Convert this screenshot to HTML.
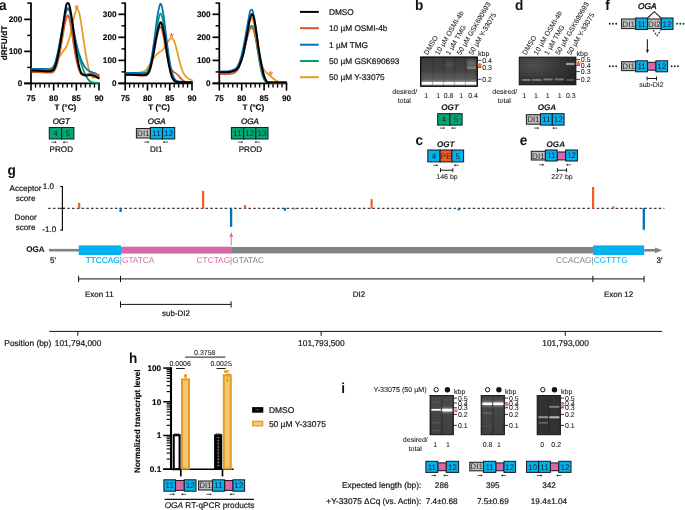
<!DOCTYPE html>
<html><head><meta charset="utf-8"><title>Figure</title>
<style>html,body{margin:0;padding:0;background:#fff;}body{width:685px;height:510px;overflow:hidden;}svg{display:block;font-family:"Liberation Sans",sans-serif;text-rendering:geometricPrecision;}</style>
</head><body>
<svg width="685" height="510" viewBox="0 0 685 510">
<defs>
<filter id="b1" x="-20%" y="-100%" width="140%" height="300%"><feGaussianBlur stdDeviation="0.6"/></filter>
<filter id="b2" x="-20%" y="-100%" width="140%" height="300%"><feGaussianBlur stdDeviation="1.2"/></filter>
<filter id="b3" x="-30%" y="-60%" width="160%" height="220%"><feGaussianBlur stdDeviation="2"/></filter>
<linearGradient id="gelb" x1="0" y1="0" x2="0" y2="1"><stop offset="0" stop-color="#333"/><stop offset="0.45" stop-color="#3c3c3c"/><stop offset="0.8" stop-color="#4d4d4d"/><stop offset="1" stop-color="#555"/></linearGradient>
<radialGradient id="geld" cx="0.25" cy="0.3" r="0.9"><stop offset="0" stop-color="#4e4e4e"/><stop offset="0.55" stop-color="#363636"/><stop offset="1" stop-color="#222"/></radialGradient>
<linearGradient id="geli" x1="0" y1="0" x2="0" y2="1"><stop offset="0" stop-color="#3e3e3e"/><stop offset="1" stop-color="#303030"/></linearGradient>
<clipPath id="clipb"><rect x="420.6" y="57.1" width="56.7" height="29.2"/></clipPath>
</defs>
<rect width="685" height="510" fill="#fff"/>
<g opacity="0.999">
<text transform="translate(-1.00 10.40) scale(0.94 1)" font-size="14.5" font-weight="bold" fill="#111">a</text>
<text x="6.90" y="43.00" font-size="8.35" text-anchor="middle" font-weight="bold" fill="#000" transform="rotate(-90 6.90 43.00)" stroke="#000" stroke-width="0.12">dRFU/dT</text>
<line x1="31.00" y1="2.50" x2="31.00" y2="84.25" stroke="#000" stroke-width="1.75"/>
<line x1="24.20" y1="83.40" x2="99.81" y2="83.40" stroke="#000" stroke-width="1.7"/>
<line x1="27.20" y1="3.10" x2="31.00" y2="3.10" stroke="#000" stroke-width="1.5"/>
<line x1="24.20" y1="83.40" x2="31.00" y2="83.40" stroke="#000" stroke-width="1.7"/>
<text x="22.30" y="86.35" font-size="8.2" text-anchor="end" font-weight="bold" fill="#000" stroke="#000" stroke-width="0.12">0</text>
<line x1="27.30" y1="67.40" x2="31.00" y2="67.40" stroke="#000" stroke-width="1.5"/>
<line x1="24.20" y1="51.40" x2="31.00" y2="51.40" stroke="#000" stroke-width="1.7"/>
<text x="22.30" y="54.35" font-size="8.2" text-anchor="end" font-weight="bold" fill="#000" stroke="#000" stroke-width="0.12">100</text>
<line x1="27.30" y1="35.40" x2="31.00" y2="35.40" stroke="#000" stroke-width="1.5"/>
<line x1="24.20" y1="19.40" x2="31.00" y2="19.40" stroke="#000" stroke-width="1.7"/>
<text x="22.30" y="22.35" font-size="8.2" text-anchor="end" font-weight="bold" fill="#000" stroke="#000" stroke-width="0.12">200</text>
<line x1="31.00" y1="83.40" x2="31.00" y2="90.60" stroke="#000" stroke-width="1.6"/>
<text x="31.00" y="101.10" font-size="8.2" text-anchor="middle" font-weight="bold" fill="#000" stroke="#000" stroke-width="0.12">75</text>
<line x1="35.53" y1="83.40" x2="35.53" y2="87.60" stroke="#000" stroke-width="1.35"/>
<line x1="40.07" y1="83.40" x2="40.07" y2="87.60" stroke="#000" stroke-width="1.35"/>
<line x1="44.60" y1="83.40" x2="44.60" y2="87.60" stroke="#000" stroke-width="1.35"/>
<line x1="49.14" y1="83.40" x2="49.14" y2="87.60" stroke="#000" stroke-width="1.35"/>
<line x1="53.67" y1="83.40" x2="53.67" y2="90.60" stroke="#000" stroke-width="1.6"/>
<text x="53.67" y="101.10" font-size="8.2" text-anchor="middle" font-weight="bold" fill="#000" stroke="#000" stroke-width="0.12">80</text>
<line x1="58.20" y1="83.40" x2="58.20" y2="87.60" stroke="#000" stroke-width="1.35"/>
<line x1="62.74" y1="83.40" x2="62.74" y2="87.60" stroke="#000" stroke-width="1.35"/>
<line x1="67.27" y1="83.40" x2="67.27" y2="87.60" stroke="#000" stroke-width="1.35"/>
<line x1="71.81" y1="83.40" x2="71.81" y2="87.60" stroke="#000" stroke-width="1.35"/>
<line x1="76.34" y1="83.40" x2="76.34" y2="90.60" stroke="#000" stroke-width="1.6"/>
<text x="76.34" y="101.10" font-size="8.2" text-anchor="middle" font-weight="bold" fill="#000" stroke="#000" stroke-width="0.12">85</text>
<line x1="80.87" y1="83.40" x2="80.87" y2="87.60" stroke="#000" stroke-width="1.35"/>
<line x1="85.41" y1="83.40" x2="85.41" y2="87.60" stroke="#000" stroke-width="1.35"/>
<line x1="89.94" y1="83.40" x2="89.94" y2="87.60" stroke="#000" stroke-width="1.35"/>
<line x1="94.48" y1="83.40" x2="94.48" y2="87.60" stroke="#000" stroke-width="1.35"/>
<line x1="99.01" y1="83.40" x2="99.01" y2="90.60" stroke="#000" stroke-width="1.6"/>
<text x="99.01" y="101.10" font-size="8.2" text-anchor="middle" font-weight="bold" fill="#000" stroke="#000" stroke-width="0.12">90</text>
<text x="65.46" y="110.20" font-size="8.1" text-anchor="middle" font-weight="bold" fill="#000" stroke="#000" stroke-width="0.12">T (°C)</text>
<path d="M31.60,69.00C33.00,68.97 37.27,68.83 40.00,68.80C42.73,68.77 46.00,68.93 48.00,68.80C50.00,68.67 50.75,68.88 52.00,68.00C53.25,67.12 54.27,65.42 55.50,63.50C56.73,61.58 58.15,58.48 59.40,56.50C60.65,54.52 61.82,53.27 63.00,51.60C64.18,49.93 65.50,48.52 66.50,46.50C67.50,44.48 68.17,42.33 69.00,39.50C69.83,36.67 70.70,33.08 71.50,29.50C72.30,25.92 73.07,21.12 73.80,18.00C74.53,14.88 75.30,12.30 75.90,10.80C76.50,9.30 76.90,8.88 77.40,9.00C77.90,9.12 78.35,9.58 78.90,11.50C79.45,13.42 80.08,16.92 80.70,20.50C81.32,24.08 81.83,27.83 82.60,33.00C83.37,38.17 84.50,46.55 85.30,51.50C86.10,56.45 86.83,59.82 87.40,62.70C87.97,65.58 88.27,67.05 88.70,68.80C89.13,70.55 89.57,71.97 90.00,73.20C90.43,74.43 90.78,75.47 91.30,76.20C91.82,76.93 92.43,77.40 93.10,77.60C93.77,77.80 94.57,77.37 95.30,77.40C96.03,77.43 96.80,77.60 97.50,77.80C98.20,78.00 99.17,78.47 99.50,78.60" fill="none" stroke="#E69D1E" stroke-width="1.75" stroke-linejoin="round" stroke-linecap="butt"/>
<path d="M31.60,69.50C33.33,69.52 38.93,69.55 42.00,69.60C45.07,69.65 48.17,69.98 50.00,69.80C51.83,69.62 52.07,69.63 53.00,68.50C53.93,67.37 54.67,66.00 55.60,63.00C56.53,60.00 57.53,55.75 58.60,50.50C59.67,45.25 60.97,37.17 62.00,31.50C63.03,25.83 64.00,20.17 64.80,16.50C65.60,12.83 66.22,10.82 66.80,9.50C67.38,8.18 67.80,8.18 68.30,8.60C68.80,9.02 69.22,9.77 69.80,12.00C70.38,14.23 71.02,17.83 71.80,22.00C72.58,26.17 73.52,32.20 74.50,37.00C75.48,41.80 76.87,47.27 77.70,50.80C78.53,54.33 78.83,55.78 79.50,58.20C80.17,60.62 81.02,63.23 81.70,65.30C82.38,67.37 82.95,68.98 83.60,70.60C84.25,72.22 84.83,73.53 85.60,75.00C86.37,76.47 87.32,78.27 88.20,79.40C89.08,80.53 90.02,81.27 90.90,81.80C91.78,82.33 92.07,82.43 93.50,82.60C94.93,82.77 98.50,82.77 99.50,82.80" fill="none" stroke="#009E73" stroke-width="1.75" stroke-linejoin="round" stroke-linecap="butt"/>
<path d="M31.60,68.80C33.33,68.82 38.93,68.83 42.00,68.90C45.07,68.97 48.17,69.43 50.00,69.20C51.83,68.97 52.10,68.70 53.00,67.50C53.90,66.30 54.52,64.92 55.40,62.00C56.28,59.08 57.23,55.08 58.30,50.00C59.37,44.92 60.75,37.00 61.80,31.50C62.85,26.00 63.78,20.62 64.60,17.00C65.42,13.38 66.08,11.20 66.70,9.80C67.32,8.40 67.77,8.32 68.30,8.60C68.83,8.88 69.28,9.43 69.90,11.50C70.52,13.57 71.22,17.08 72.00,21.00C72.78,24.92 73.77,30.75 74.60,35.00C75.43,39.25 76.27,43.37 77.00,46.50C77.73,49.63 78.15,51.25 79.00,53.80C79.85,56.35 81.00,59.43 82.10,61.80C83.20,64.17 84.43,66.47 85.60,68.00C86.77,69.53 87.92,70.25 89.10,71.00C90.28,71.75 91.67,72.10 92.70,72.50C93.73,72.90 94.17,72.88 95.30,73.40C96.43,73.92 98.80,75.23 99.50,75.60" fill="none" stroke="#0072B8" stroke-width="1.75" stroke-linejoin="round" stroke-linecap="butt"/>
<path d="M31.60,72.00C33.33,72.05 38.93,72.20 42.00,72.30C45.07,72.40 48.05,72.73 50.00,72.60C51.95,72.47 52.65,72.52 53.70,71.50C54.75,70.48 55.35,69.42 56.30,66.50C57.25,63.58 58.35,59.00 59.40,54.00C60.45,49.00 61.67,41.67 62.60,36.50C63.53,31.33 64.32,26.28 65.00,23.00C65.68,19.72 66.22,18.03 66.70,16.80C67.18,15.57 67.47,15.40 67.90,15.60C68.33,15.80 68.78,16.10 69.30,18.00C69.82,19.90 70.35,23.17 71.00,27.00C71.65,30.83 72.43,36.25 73.20,41.00C73.97,45.75 74.77,51.17 75.60,55.50C76.43,59.83 77.42,64.12 78.20,67.00C78.98,69.88 79.67,71.52 80.30,72.80C80.93,74.08 81.30,74.28 82.00,74.70C82.70,75.12 83.32,75.45 84.50,75.30C85.68,75.15 87.77,74.03 89.10,73.80C90.43,73.57 91.47,73.75 92.50,73.90C93.53,74.05 94.13,74.27 95.30,74.70C96.47,75.13 98.80,76.20 99.50,76.50" fill="none" stroke="#D5572A" stroke-width="1.9" stroke-linejoin="round" stroke-linecap="butt"/>
<path d="M31.60,70.60C33.33,70.65 38.93,70.78 42.00,70.90C45.07,71.02 48.12,71.45 50.00,71.30C51.88,71.15 52.37,70.97 53.30,70.00C54.23,69.03 54.72,68.33 55.60,65.50C56.48,62.67 57.53,58.50 58.60,53.00C59.67,47.50 61.03,38.67 62.00,32.50C62.97,26.33 63.73,20.38 64.40,16.00C65.07,11.62 65.55,8.30 66.00,6.20C66.45,4.10 66.67,3.87 67.10,3.40C67.53,2.93 68.15,2.80 68.60,3.40C69.05,4.00 69.33,4.93 69.80,7.00C70.27,9.07 70.77,11.63 71.40,15.80C72.03,19.97 72.80,26.13 73.60,32.00C74.40,37.87 75.35,45.50 76.20,51.00C77.05,56.50 77.97,61.58 78.70,65.00C79.43,68.42 80.03,70.02 80.60,71.50C81.17,72.98 81.27,73.25 82.10,73.90C82.93,74.55 84.53,75.17 85.60,75.40C86.67,75.63 87.62,75.37 88.50,75.30C89.38,75.23 89.77,74.83 90.90,75.00C92.03,75.17 93.87,75.70 95.30,76.30C96.73,76.90 98.80,78.22 99.50,78.60" fill="none" stroke="#000" stroke-width="2.0" stroke-linejoin="round" stroke-linecap="butt"/>
<text x="76.80" y="13.20" font-size="11.5" text-anchor="middle" fill="#F15A22" stroke="#F15A22" stroke-width="0.12">*</text>
<line x1="125.20" y1="2.50" x2="125.20" y2="84.25" stroke="#000" stroke-width="1.75"/>
<line x1="118.40" y1="83.40" x2="192.81" y2="83.40" stroke="#000" stroke-width="1.7"/>
<line x1="121.40" y1="3.10" x2="125.20" y2="3.10" stroke="#000" stroke-width="1.5"/>
<line x1="118.40" y1="83.40" x2="125.20" y2="83.40" stroke="#000" stroke-width="1.7"/>
<text x="116.50" y="86.35" font-size="8.2" text-anchor="end" font-weight="bold" fill="#000" stroke="#000" stroke-width="0.12">0</text>
<line x1="121.50" y1="71.90" x2="125.20" y2="71.90" stroke="#000" stroke-width="1.5"/>
<line x1="118.40" y1="60.40" x2="125.20" y2="60.40" stroke="#000" stroke-width="1.7"/>
<text x="116.50" y="63.35" font-size="8.2" text-anchor="end" font-weight="bold" fill="#000" stroke="#000" stroke-width="0.12">100</text>
<line x1="121.50" y1="48.90" x2="125.20" y2="48.90" stroke="#000" stroke-width="1.5"/>
<line x1="118.40" y1="37.30" x2="125.20" y2="37.30" stroke="#000" stroke-width="1.7"/>
<text x="116.50" y="40.25" font-size="8.2" text-anchor="end" font-weight="bold" fill="#000" stroke="#000" stroke-width="0.12">200</text>
<line x1="121.50" y1="25.80" x2="125.20" y2="25.80" stroke="#000" stroke-width="1.5"/>
<line x1="118.40" y1="14.30" x2="125.20" y2="14.30" stroke="#000" stroke-width="1.7"/>
<text x="116.50" y="17.25" font-size="8.2" text-anchor="end" font-weight="bold" fill="#000" stroke="#000" stroke-width="0.12">300</text>
<line x1="125.20" y1="83.40" x2="125.20" y2="90.60" stroke="#000" stroke-width="1.6"/>
<text x="125.20" y="101.10" font-size="8.2" text-anchor="middle" font-weight="bold" fill="#000" stroke="#000" stroke-width="0.12">75</text>
<line x1="129.65" y1="83.40" x2="129.65" y2="87.60" stroke="#000" stroke-width="1.35"/>
<line x1="134.11" y1="83.40" x2="134.11" y2="87.60" stroke="#000" stroke-width="1.35"/>
<line x1="138.56" y1="83.40" x2="138.56" y2="87.60" stroke="#000" stroke-width="1.35"/>
<line x1="143.02" y1="83.40" x2="143.02" y2="87.60" stroke="#000" stroke-width="1.35"/>
<line x1="147.47" y1="83.40" x2="147.47" y2="90.60" stroke="#000" stroke-width="1.6"/>
<text x="147.47" y="101.10" font-size="8.2" text-anchor="middle" font-weight="bold" fill="#000" stroke="#000" stroke-width="0.12">80</text>
<line x1="151.92" y1="83.40" x2="151.92" y2="87.60" stroke="#000" stroke-width="1.35"/>
<line x1="156.38" y1="83.40" x2="156.38" y2="87.60" stroke="#000" stroke-width="1.35"/>
<line x1="160.83" y1="83.40" x2="160.83" y2="87.60" stroke="#000" stroke-width="1.35"/>
<line x1="165.29" y1="83.40" x2="165.29" y2="87.60" stroke="#000" stroke-width="1.35"/>
<line x1="169.74" y1="83.40" x2="169.74" y2="90.60" stroke="#000" stroke-width="1.6"/>
<text x="169.74" y="101.10" font-size="8.2" text-anchor="middle" font-weight="bold" fill="#000" stroke="#000" stroke-width="0.12">85</text>
<line x1="174.19" y1="83.40" x2="174.19" y2="87.60" stroke="#000" stroke-width="1.35"/>
<line x1="178.65" y1="83.40" x2="178.65" y2="87.60" stroke="#000" stroke-width="1.35"/>
<line x1="183.10" y1="83.40" x2="183.10" y2="87.60" stroke="#000" stroke-width="1.35"/>
<line x1="187.56" y1="83.40" x2="187.56" y2="87.60" stroke="#000" stroke-width="1.35"/>
<line x1="192.01" y1="83.40" x2="192.01" y2="90.60" stroke="#000" stroke-width="1.6"/>
<text x="192.01" y="101.10" font-size="8.2" text-anchor="middle" font-weight="bold" fill="#000" stroke="#000" stroke-width="0.12">90</text>
<text x="159.05" y="110.20" font-size="8.1" text-anchor="middle" font-weight="bold" fill="#000" stroke="#000" stroke-width="0.12">T (°C)</text>
<path d="M125.80,72.80C127.17,72.80 131.73,72.83 134.00,72.80C136.27,72.77 137.90,72.80 139.40,72.60C140.90,72.40 141.82,72.10 143.00,71.60C144.18,71.10 145.18,71.08 146.50,69.60C147.82,68.12 149.43,65.00 150.90,62.70C152.37,60.40 153.90,57.52 155.30,55.80C156.70,54.08 158.08,53.37 159.30,52.40C160.52,51.43 161.60,51.00 162.60,50.00C163.60,49.00 164.47,47.70 165.30,46.40C166.13,45.10 166.88,43.38 167.60,42.20C168.32,41.02 168.97,39.97 169.60,39.30C170.23,38.63 170.82,38.20 171.40,38.20C171.98,38.20 172.52,38.45 173.10,39.30C173.68,40.15 174.30,41.60 174.90,43.30C175.50,45.00 176.12,47.30 176.70,49.50C177.28,51.70 177.83,54.17 178.40,56.50C178.97,58.83 179.52,61.32 180.10,63.50C180.68,65.68 181.25,67.85 181.90,69.60C182.55,71.35 183.28,72.80 184.00,74.00C184.72,75.20 185.37,75.97 186.20,76.80C187.03,77.63 187.93,78.37 189.00,79.00C190.07,79.63 192.00,80.33 192.60,80.60" fill="none" stroke="#E69D1E" stroke-width="1.75" stroke-linejoin="round" stroke-linecap="butt"/>
<path d="M125.80,74.80C126.83,74.82 129.97,74.78 132.00,74.90C134.03,75.02 136.17,75.37 138.00,75.50C139.83,75.63 141.47,75.78 143.00,75.70C144.53,75.62 146.05,75.87 147.20,75.00C148.35,74.13 149.00,73.08 149.90,70.50C150.80,67.92 151.68,63.83 152.60,59.50C153.52,55.17 154.52,49.00 155.40,44.50C156.28,40.00 157.10,35.45 157.90,32.50C158.70,29.55 159.48,27.13 160.20,26.80C160.92,26.47 161.52,28.13 162.20,30.50C162.88,32.87 163.55,37.08 164.30,41.00C165.05,44.92 165.92,50.25 166.70,54.00C167.48,57.75 168.23,61.00 169.00,63.50C169.77,66.00 170.55,67.62 171.30,69.00C172.05,70.38 172.72,71.07 173.50,71.80C174.28,72.53 175.17,72.77 176.00,73.40C176.83,74.03 177.67,74.73 178.50,75.60C179.33,76.47 180.17,77.73 181.00,78.60C181.83,79.47 182.58,80.20 183.50,80.80C184.42,81.40 184.98,81.90 186.50,82.20C188.02,82.50 191.58,82.53 192.60,82.60" fill="none" stroke="#D5572A" stroke-width="1.75" stroke-linejoin="round" stroke-linecap="butt"/>
<path d="M125.80,73.20C127.50,73.22 133.05,73.25 136.00,73.30C138.95,73.35 141.63,73.67 143.50,73.50C145.37,73.33 146.13,73.30 147.20,72.30C148.27,71.30 149.02,70.30 149.90,67.50C150.78,64.70 151.62,60.17 152.50,55.50C153.38,50.83 154.35,44.67 155.20,39.50C156.05,34.33 156.92,28.42 157.60,24.50C158.28,20.58 158.80,17.87 159.30,16.00C159.80,14.13 160.15,13.27 160.60,13.30C161.05,13.33 161.48,14.25 162.00,16.20C162.52,18.15 163.12,21.53 163.70,25.00C164.28,28.47 164.87,32.67 165.50,37.00C166.13,41.33 166.77,46.25 167.50,51.00C168.23,55.75 169.08,61.47 169.90,65.50C170.72,69.53 171.52,72.75 172.40,75.20C173.28,77.65 174.18,79.13 175.20,80.20C176.22,81.27 177.03,81.30 178.50,81.60C179.97,81.90 181.65,81.90 184.00,82.00C186.35,82.10 191.17,82.17 192.60,82.20" fill="none" stroke="#009E73" stroke-width="1.75" stroke-linejoin="round" stroke-linecap="butt"/>
<path d="M125.80,72.80C127.50,72.82 133.05,72.85 136.00,72.90C138.95,72.95 141.67,73.25 143.50,73.10C145.33,72.95 145.97,73.02 147.00,72.00C148.03,70.98 148.83,70.00 149.70,67.00C150.57,64.00 151.35,59.17 152.20,54.00C153.05,48.83 153.97,42.08 154.80,36.00C155.63,29.92 156.48,22.25 157.20,17.50C157.92,12.75 158.53,9.82 159.10,7.50C159.67,5.18 160.12,3.68 160.60,3.60C161.08,3.52 161.48,4.85 162.00,7.00C162.52,9.15 163.12,12.58 163.70,16.50C164.28,20.42 164.87,25.50 165.50,30.50C166.13,35.50 166.75,41.00 167.50,46.50C168.25,52.00 169.17,58.83 170.00,63.50C170.83,68.17 171.63,71.78 172.50,74.50C173.37,77.22 174.20,78.65 175.20,79.80C176.20,80.95 177.03,81.07 178.50,81.40C179.97,81.73 181.65,81.70 184.00,81.80C186.35,81.90 191.17,81.97 192.60,82.00" fill="none" stroke="#0072B8" stroke-width="1.75" stroke-linejoin="round" stroke-linecap="butt"/>
<path d="M125.80,74.80C127.50,74.82 133.00,74.85 136.00,74.90C139.00,74.95 141.92,75.25 143.80,75.10C145.68,74.95 146.30,74.85 147.30,74.00C148.30,73.15 148.90,72.75 149.80,70.00C150.70,67.25 151.72,62.42 152.70,57.50C153.68,52.58 154.77,45.33 155.70,40.50C156.63,35.67 157.48,31.55 158.30,28.50C159.12,25.45 159.87,22.45 160.60,22.20C161.33,21.95 162.00,24.37 162.70,27.00C163.40,29.63 164.08,33.58 164.80,38.00C165.52,42.42 166.25,48.67 167.00,53.50C167.75,58.33 168.52,63.17 169.30,67.00C170.08,70.83 170.88,74.20 171.70,76.50C172.52,78.80 173.32,79.88 174.20,80.80C175.08,81.72 175.53,81.75 177.00,82.00C178.47,82.25 180.40,82.23 183.00,82.30C185.60,82.37 191.00,82.38 192.60,82.40" fill="none" stroke="#000" stroke-width="2.0" stroke-linejoin="round" stroke-linecap="butt"/>
<text x="171.40" y="41.40" font-size="11.5" text-anchor="middle" fill="#F15A22" stroke="#F15A22" stroke-width="0.12">*</text>
<line x1="219.30" y1="2.50" x2="219.30" y2="84.25" stroke="#000" stroke-width="1.75"/>
<line x1="212.50" y1="83.40" x2="287.30" y2="83.40" stroke="#000" stroke-width="1.7"/>
<line x1="215.50" y1="3.10" x2="219.30" y2="3.10" stroke="#000" stroke-width="1.5"/>
<line x1="212.50" y1="83.40" x2="219.30" y2="83.40" stroke="#000" stroke-width="1.7"/>
<text x="210.60" y="86.35" font-size="8.2" text-anchor="end" font-weight="bold" fill="#000" stroke="#000" stroke-width="0.12">0</text>
<line x1="215.60" y1="71.90" x2="219.30" y2="71.90" stroke="#000" stroke-width="1.5"/>
<line x1="212.50" y1="60.40" x2="219.30" y2="60.40" stroke="#000" stroke-width="1.7"/>
<text x="210.60" y="63.35" font-size="8.2" text-anchor="end" font-weight="bold" fill="#000" stroke="#000" stroke-width="0.12">100</text>
<line x1="215.60" y1="48.90" x2="219.30" y2="48.90" stroke="#000" stroke-width="1.5"/>
<line x1="212.50" y1="37.30" x2="219.30" y2="37.30" stroke="#000" stroke-width="1.7"/>
<text x="210.60" y="40.25" font-size="8.2" text-anchor="end" font-weight="bold" fill="#000" stroke="#000" stroke-width="0.12">200</text>
<line x1="215.60" y1="25.80" x2="219.30" y2="25.80" stroke="#000" stroke-width="1.5"/>
<line x1="212.50" y1="14.30" x2="219.30" y2="14.30" stroke="#000" stroke-width="1.7"/>
<text x="210.60" y="17.25" font-size="8.2" text-anchor="end" font-weight="bold" fill="#000" stroke="#000" stroke-width="0.12">300</text>
<line x1="219.30" y1="83.40" x2="219.30" y2="90.60" stroke="#000" stroke-width="1.6"/>
<text x="219.30" y="101.10" font-size="8.2" text-anchor="middle" font-weight="bold" fill="#000" stroke="#000" stroke-width="0.12">75</text>
<line x1="223.78" y1="83.40" x2="223.78" y2="87.60" stroke="#000" stroke-width="1.35"/>
<line x1="228.26" y1="83.40" x2="228.26" y2="87.60" stroke="#000" stroke-width="1.35"/>
<line x1="232.74" y1="83.40" x2="232.74" y2="87.60" stroke="#000" stroke-width="1.35"/>
<line x1="237.22" y1="83.40" x2="237.22" y2="87.60" stroke="#000" stroke-width="1.35"/>
<line x1="241.70" y1="83.40" x2="241.70" y2="90.60" stroke="#000" stroke-width="1.6"/>
<text x="241.70" y="101.10" font-size="8.2" text-anchor="middle" font-weight="bold" fill="#000" stroke="#000" stroke-width="0.12">80</text>
<line x1="246.18" y1="83.40" x2="246.18" y2="87.60" stroke="#000" stroke-width="1.35"/>
<line x1="250.66" y1="83.40" x2="250.66" y2="87.60" stroke="#000" stroke-width="1.35"/>
<line x1="255.14" y1="83.40" x2="255.14" y2="87.60" stroke="#000" stroke-width="1.35"/>
<line x1="259.62" y1="83.40" x2="259.62" y2="87.60" stroke="#000" stroke-width="1.35"/>
<line x1="264.10" y1="83.40" x2="264.10" y2="90.60" stroke="#000" stroke-width="1.6"/>
<text x="264.10" y="101.10" font-size="8.2" text-anchor="middle" font-weight="bold" fill="#000" stroke="#000" stroke-width="0.12">85</text>
<line x1="268.58" y1="83.40" x2="268.58" y2="87.60" stroke="#000" stroke-width="1.35"/>
<line x1="273.06" y1="83.40" x2="273.06" y2="87.60" stroke="#000" stroke-width="1.35"/>
<line x1="277.54" y1="83.40" x2="277.54" y2="87.60" stroke="#000" stroke-width="1.35"/>
<line x1="282.02" y1="83.40" x2="282.02" y2="87.60" stroke="#000" stroke-width="1.35"/>
<line x1="286.50" y1="83.40" x2="286.50" y2="90.60" stroke="#000" stroke-width="1.6"/>
<text x="286.50" y="101.10" font-size="8.2" text-anchor="middle" font-weight="bold" fill="#000" stroke="#000" stroke-width="0.12">90</text>
<text x="253.35" y="110.20" font-size="8.1" text-anchor="middle" font-weight="bold" fill="#000" stroke="#000" stroke-width="0.12">T (°C)</text>
<path d="M219.90,72.00C221.58,71.93 227.48,71.93 230.00,71.60C232.52,71.27 233.57,70.93 235.00,70.00C236.43,69.07 237.33,68.58 238.60,66.00C239.87,63.42 241.30,59.42 242.60,54.50C243.90,49.58 245.30,41.67 246.40,36.50C247.50,31.33 248.33,26.55 249.20,23.50C250.07,20.45 250.87,18.37 251.60,18.20C252.33,18.03 252.90,19.78 253.60,22.50C254.30,25.22 255.03,29.92 255.80,34.50C256.57,39.08 257.45,45.67 258.20,50.00C258.95,54.33 259.62,57.75 260.30,60.50C260.98,63.25 261.48,64.72 262.30,66.50C263.12,68.28 264.25,69.95 265.20,71.20C266.15,72.45 267.12,73.17 268.00,74.00C268.88,74.83 269.58,75.40 270.50,76.20C271.42,77.00 272.50,78.03 273.50,78.80C274.50,79.57 275.42,80.27 276.50,80.80C277.58,81.33 278.27,81.70 280.00,82.00C281.73,82.30 285.75,82.50 286.90,82.60" fill="none" stroke="#E69D1E" stroke-width="1.75" stroke-linejoin="round" stroke-linecap="butt"/>
<path d="M219.90,71.80C221.58,71.75 227.48,71.80 230.00,71.50C232.52,71.20 233.57,70.88 235.00,70.00C236.43,69.12 237.33,68.62 238.60,66.20C239.87,63.78 241.30,59.87 242.60,55.50C243.90,51.13 245.33,44.33 246.40,40.00C247.47,35.67 248.30,31.80 249.00,29.50C249.70,27.20 250.03,26.75 250.60,26.20C251.17,25.65 251.83,25.57 252.40,26.20C252.97,26.83 253.37,27.45 254.00,30.00C254.63,32.55 255.43,37.08 256.20,41.50C256.97,45.92 257.83,52.00 258.60,56.50C259.37,61.00 260.07,65.08 260.80,68.50C261.53,71.92 262.23,74.87 263.00,77.00C263.77,79.13 264.40,80.40 265.40,81.30C266.40,82.20 265.42,82.18 269.00,82.40C272.58,82.62 283.92,82.57 286.90,82.60" fill="none" stroke="#009E73" stroke-width="1.75" stroke-linejoin="round" stroke-linecap="butt"/>
<path d="M219.90,74.20C221.58,74.13 227.48,74.10 230.00,73.80C232.52,73.50 233.60,73.28 235.00,72.40C236.40,71.52 237.20,70.90 238.40,68.50C239.60,66.10 240.93,62.33 242.20,58.00C243.47,53.67 244.90,46.87 246.00,42.50C247.10,38.13 247.88,34.28 248.80,31.80C249.72,29.32 250.62,27.65 251.50,27.60C252.38,27.55 253.25,29.10 254.10,31.50C254.95,33.90 255.77,37.83 256.60,42.00C257.43,46.17 258.30,52.00 259.10,56.50C259.90,61.00 260.65,65.50 261.40,69.00C262.15,72.50 262.87,75.43 263.60,77.50C264.33,79.57 264.90,80.58 265.80,81.40C266.70,82.22 265.48,82.20 269.00,82.40C272.52,82.60 283.92,82.57 286.90,82.60" fill="none" stroke="#D5572A" stroke-width="1.75" stroke-linejoin="round" stroke-linecap="butt"/>
<path d="M219.90,71.50C221.42,71.42 226.65,71.32 229.00,71.00C231.35,70.68 232.53,70.43 234.00,69.60C235.47,68.77 236.47,68.68 237.80,66.00C239.13,63.32 240.63,59.00 242.00,53.50C243.37,48.00 244.90,38.83 246.00,33.00C247.10,27.17 247.88,22.23 248.60,18.50C249.32,14.77 249.67,11.97 250.30,10.60C250.93,9.23 251.82,9.48 252.40,10.30C252.98,11.12 253.27,12.80 253.80,15.50C254.33,18.20 254.93,22.00 255.60,26.50C256.27,31.00 257.07,37.17 257.80,42.50C258.53,47.83 259.27,53.67 260.00,58.50C260.73,63.33 261.50,68.12 262.20,71.50C262.90,74.88 263.50,77.08 264.20,78.80C264.90,80.52 265.43,81.20 266.40,81.80C267.37,82.40 266.58,82.27 270.00,82.40C273.42,82.53 284.08,82.57 286.90,82.60" fill="none" stroke="#0072B8" stroke-width="1.75" stroke-linejoin="round" stroke-linecap="butt"/>
<path d="M219.90,72.20C221.58,72.15 227.48,72.18 230.00,71.90C232.52,71.62 233.53,71.35 235.00,70.50C236.47,69.65 237.47,69.38 238.80,66.80C240.13,64.22 241.67,60.13 243.00,55.00C244.33,49.87 245.70,41.73 246.80,36.00C247.90,30.27 248.73,24.27 249.60,20.60C250.47,16.93 251.23,14.17 252.00,14.00C252.77,13.83 253.47,16.50 254.20,19.60C254.93,22.70 255.63,27.62 256.40,32.60C257.17,37.58 257.95,44.18 258.80,49.50C259.65,54.82 260.63,60.17 261.50,64.50C262.37,68.83 263.18,72.78 264.00,75.50C264.82,78.22 265.48,79.65 266.40,80.80C267.32,81.95 266.08,82.10 269.50,82.40C272.92,82.70 284.00,82.57 286.90,82.60" fill="none" stroke="#000" stroke-width="2.0" stroke-linejoin="round" stroke-linecap="butt"/>
<text x="270.70" y="79.40" font-size="11.5" text-anchor="middle" fill="#F15A22" stroke="#F15A22" stroke-width="0.12">*</text>
<text x="61.30" y="123.70" font-size="8.0" text-anchor="middle" font-style="italic" fill="#1a1a1a" stroke="#1a1a1a" stroke-width="0.34">OGT</text>
<rect x="49.30" y="127.50" width="12.30" height="11.50" fill="#00A876" stroke="#1f1f1f" stroke-width="1.05"/>
<text x="55.45" y="136.17" font-size="8.1" text-anchor="middle" fill="#0f2a21" stroke="#0f2a21" stroke-width="0">4</text>
<rect x="61.60" y="127.50" width="12.30" height="11.50" fill="#00A876" stroke="#1f1f1f" stroke-width="1.05"/>
<text x="67.75" y="136.17" font-size="8.1" text-anchor="middle" fill="#0f2a21" stroke="#0f2a21" stroke-width="0">5</text>
<line x1="51.30" y1="142.20" x2="55.90" y2="142.20" stroke="#1a1a1a" stroke-width="0.7"/>
<path d="M56.70,142.20 L54.70,141.00 L55.20,142.20 L54.70,143.40Z" fill="#1a1a1a"/>
<line x1="63.50" y1="142.20" x2="67.90" y2="142.20" stroke="#1a1a1a" stroke-width="0.7"/>
<path d="M62.70,142.20 L64.70,141.00 L64.20,142.20 L64.70,143.40Z" fill="#1a1a1a"/>
<text x="61.30" y="151.80" font-size="8.1" text-anchor="middle" fill="#1a1a1a" stroke="#1a1a1a" stroke-width="0.22">PROD</text>
<text x="156.70" y="123.70" font-size="8.0" text-anchor="middle" font-style="italic" fill="#1a1a1a" stroke="#1a1a1a" stroke-width="0.34">OGA</text>
<rect x="136.40" y="128.50" width="14.00" height="9.50" fill="#BFBFBF" stroke="#1f1f1f" stroke-width="1.05"/>
<text x="143.40" y="136.17" font-size="8.1" text-anchor="middle" fill="#2c2c2c" stroke="#2c2c2c" stroke-width="0">DI1</text>
<rect x="150.40" y="127.50" width="12.10" height="11.50" fill="#00B2EE" stroke="#1f1f1f" stroke-width="1.05"/>
<text x="156.45" y="136.17" font-size="8.1" text-anchor="middle" fill="#14222b" stroke="#14222b" stroke-width="0">11</text>
<rect x="162.50" y="127.50" width="12.20" height="11.50" fill="#00B2EE" stroke="#1f1f1f" stroke-width="1.05"/>
<text x="168.60" y="136.17" font-size="8.1" text-anchor="middle" fill="#14222b" stroke="#14222b" stroke-width="0">12</text>
<line x1="144.20" y1="142.10" x2="148.50" y2="142.10" stroke="#1a1a1a" stroke-width="0.7"/>
<path d="M149.30,142.10 L147.30,140.90 L147.80,142.10 L147.30,143.30Z" fill="#1a1a1a"/>
<line x1="163.60" y1="142.10" x2="168.00" y2="142.10" stroke="#1a1a1a" stroke-width="0.7"/>
<path d="M162.80,142.10 L164.80,140.90 L164.30,142.10 L164.80,143.30Z" fill="#1a1a1a"/>
<text x="156.30" y="151.80" font-size="8.1" text-anchor="middle" fill="#1a1a1a" stroke="#1a1a1a" stroke-width="0.22">DI1</text>
<text x="250.00" y="123.70" font-size="8.0" text-anchor="middle" font-style="italic" fill="#1a1a1a" stroke="#1a1a1a" stroke-width="0.34">OGA</text>
<rect x="231.40" y="127.50" width="12.20" height="11.50" fill="#00A876" stroke="#1f1f1f" stroke-width="1.05"/>
<text x="237.50" y="136.17" font-size="8.1" text-anchor="middle" fill="#0f2a21" stroke="#0f2a21" stroke-width="0">11</text>
<rect x="243.60" y="127.50" width="12.20" height="11.50" fill="#00A876" stroke="#1f1f1f" stroke-width="1.05"/>
<text x="249.70" y="136.17" font-size="8.1" text-anchor="middle" fill="#0f2a21" stroke="#0f2a21" stroke-width="0">12</text>
<rect x="255.80" y="127.50" width="12.20" height="11.50" fill="#00A876" stroke="#1f1f1f" stroke-width="1.05"/>
<text x="261.90" y="136.17" font-size="8.1" text-anchor="middle" fill="#0f2a21" stroke="#0f2a21" stroke-width="0">13</text>
<line x1="238.00" y1="142.10" x2="242.40" y2="142.10" stroke="#1a1a1a" stroke-width="0.7"/>
<path d="M243.20,142.10 L241.20,140.90 L241.70,142.10 L241.20,143.30Z" fill="#1a1a1a"/>
<line x1="255.40" y1="142.10" x2="259.80" y2="142.10" stroke="#1a1a1a" stroke-width="0.7"/>
<path d="M254.60,142.10 L256.60,140.90 L256.10,142.10 L256.60,143.30Z" fill="#1a1a1a"/>
<text x="250.40" y="151.80" font-size="8.1" text-anchor="middle" fill="#1a1a1a" stroke="#1a1a1a" stroke-width="0.22">PROD</text>
<line x1="300.00" y1="11.90" x2="318.80" y2="11.90" stroke="#000" stroke-width="2.0"/>
<text x="329.00" y="14.70" font-size="8.25" fill="#1a1a1a" stroke="#1a1a1a" stroke-width="0.22">DMSO</text>
<line x1="300.00" y1="28.20" x2="318.80" y2="28.20" stroke="#D5572A" stroke-width="2.0"/>
<text x="329.00" y="31.00" font-size="8.25" fill="#1a1a1a" stroke="#1a1a1a" stroke-width="0.22">10 µM OSMI-4b</text>
<line x1="300.00" y1="44.70" x2="318.80" y2="44.70" stroke="#0072B8" stroke-width="2.0"/>
<text x="329.00" y="47.50" font-size="8.25" fill="#1a1a1a" stroke="#1a1a1a" stroke-width="0.22">1 µM TMG</text>
<line x1="300.00" y1="61.00" x2="318.80" y2="61.00" stroke="#009E73" stroke-width="2.0"/>
<text x="329.00" y="63.80" font-size="8.25" fill="#1a1a1a" stroke="#1a1a1a" stroke-width="0.22">50 µM GSK690693</text>
<line x1="300.00" y1="77.20" x2="318.80" y2="77.20" stroke="#E69D1E" stroke-width="2.0"/>
<text x="329.00" y="80.00" font-size="8.25" fill="#1a1a1a" stroke="#1a1a1a" stroke-width="0.22">50 µM Y-33075</text>
<text transform="translate(415.10 10.40) scale(0.94 1)" font-size="14.5" font-weight="bold" fill="#111">b</text>
<text x="427.60" y="55.40" font-size="7.0" fill="#1a1a1a" transform="rotate(-59.5 427.60 55.40)" stroke="#1a1a1a" stroke-width="0.08">DMSO</text>
<text x="438.80" y="55.40" font-size="7.0" fill="#1a1a1a" transform="rotate(-59.5 438.80 55.40)" stroke="#1a1a1a" stroke-width="0.08">10 µM OSMI-4b</text>
<text x="449.60" y="55.40" font-size="7.0" fill="#1a1a1a" transform="rotate(-59.5 449.60 55.40)" stroke="#1a1a1a" stroke-width="0.08">1 µM TMG</text>
<text x="460.60" y="55.40" font-size="7.0" fill="#1a1a1a" transform="rotate(-59.5 460.60 55.40)" stroke="#1a1a1a" stroke-width="0.08">50 µM GSK690693</text>
<text x="472.40" y="55.40" font-size="7.0" fill="#1a1a1a" transform="rotate(-59.5 472.40 55.40)" stroke="#1a1a1a" stroke-width="0.08">50 µM Y-33075</text>
<rect x="420.60" y="57.10" width="56.70" height="29.20" fill="url(#gelb)" stroke="#0a0a0a" stroke-width="0.9"/>
<g clip-path="url(#clipb)">
<rect x="421" y="73" width="56" height="9" fill="#6a6a6a" opacity="0.35" filter="url(#b3)"/>
<rect x="422.60" y="58" width="8.8" height="27" fill="#777" opacity="0.13" filter="url(#b1)"/>
<rect x="421.80" y="80.6" width="10.5" height="5.0" fill="#ddd" opacity="0.5" filter="url(#b2)"/>
<rect x="421.80" y="82.0" width="10.5" height="2.6" fill="#fff" filter="url(#b1)"/>
<rect x="433.60" y="58" width="8.8" height="27" fill="#777" opacity="0.13" filter="url(#b1)"/>
<rect x="432.80" y="80.6" width="10.5" height="5.0" fill="#ddd" opacity="0.5" filter="url(#b2)"/>
<rect x="432.80" y="82.0" width="10.5" height="2.6" fill="#fff" filter="url(#b1)"/>
<rect x="444.60" y="58" width="8.8" height="27" fill="#777" opacity="0.13" filter="url(#b1)"/>
<rect x="443.80" y="80.6" width="10.5" height="5.0" fill="#ddd" opacity="0.5" filter="url(#b2)"/>
<rect x="443.80" y="82.0" width="10.5" height="2.6" fill="#fff" filter="url(#b1)"/>
<rect x="455.60" y="58" width="8.8" height="27" fill="#777" opacity="0.13" filter="url(#b1)"/>
<rect x="454.80" y="80.6" width="10.5" height="5.0" fill="#ddd" opacity="0.5" filter="url(#b2)"/>
<rect x="454.80" y="82.0" width="10.5" height="2.6" fill="#fff" filter="url(#b1)"/>
<rect x="466.60" y="58" width="8.8" height="27" fill="#777" opacity="0.13" filter="url(#b1)"/>
<rect x="465.80" y="80.6" width="10.5" height="5.0" fill="#ddd" opacity="0.5" filter="url(#b2)"/>
<rect x="465.80" y="82.0" width="10.5" height="2.6" fill="#fff" filter="url(#b1)"/>
<rect x="467.0" y="60.0" width="9.0" height="9.0" fill="#8a8a8a" opacity="0.5" filter="url(#b2)"/>
<rect x="467.0" y="66.6" width="9.0" height="2.4" fill="#999" opacity="0.45" filter="url(#b1)"/>
<rect x="445" y="61.5" width="8.5" height="6" fill="#888" opacity="0.2" filter="url(#b2)"/>
</g>
<rect x="420.60" y="57.10" width="56.70" height="29.20" fill="none" stroke="#0a0a0a" stroke-width="0.9"/>
<text x="478.00" y="55.90" font-size="7.0" fill="#1a1a1a" stroke="#1a1a1a" stroke-width="0.08">kbp</text>
<line x1="477.30" y1="60.30" x2="481.40" y2="60.30" stroke="#1a1a1a" stroke-width="0.8"/>
<text x="482.20" y="62.80" font-size="7.0" fill="#1a1a1a" stroke="#1a1a1a" stroke-width="0.08">0.4</text>
<line x1="477.30" y1="67.40" x2="481.40" y2="67.40" stroke="#1a1a1a" stroke-width="0.8"/>
<text x="482.20" y="69.90" font-size="7.0" fill="#1a1a1a" stroke="#1a1a1a" stroke-width="0.08">0.3</text>
<line x1="477.30" y1="79.30" x2="481.40" y2="79.30" stroke="#1a1a1a" stroke-width="0.8"/>
<text x="482.20" y="81.80" font-size="7.0" fill="#1a1a1a" stroke="#1a1a1a" stroke-width="0.08">0.2</text>
<text x="479.80" y="71.00" font-size="11.5" text-anchor="middle" font-weight="bold" fill="#F15A22" stroke="#F15A22" stroke-width="0.12">*</text>
<text x="404.70" y="94.30" font-size="7.0" text-anchor="middle" fill="#1a1a1a" stroke="#1a1a1a" stroke-width="0.08">desired/</text>
<text x="404.30" y="103.20" font-size="7.0" text-anchor="middle" fill="#1a1a1a" stroke="#1a1a1a" stroke-width="0.08">total</text>
<text x="426.20" y="98.30" font-size="7.0" text-anchor="middle" fill="#1a1a1a" stroke="#1a1a1a" stroke-width="0.08">1</text>
<text x="438.30" y="98.30" font-size="7.0" text-anchor="middle" fill="#1a1a1a" stroke="#1a1a1a" stroke-width="0.08">1</text>
<text x="448.60" y="98.30" font-size="7.0" text-anchor="middle" fill="#1a1a1a" stroke="#1a1a1a" stroke-width="0.08">0.8</text>
<text x="461.20" y="98.30" font-size="7.0" text-anchor="middle" fill="#1a1a1a" stroke="#1a1a1a" stroke-width="0.08">1</text>
<text x="473.00" y="98.30" font-size="7.0" text-anchor="middle" fill="#1a1a1a" stroke="#1a1a1a" stroke-width="0.08">0.4</text>
<text x="449.90" y="109.90" font-size="8.1" text-anchor="middle" font-weight="bold" font-style="italic" fill="#1a1a1a" stroke="#1a1a1a" stroke-width="0.12">OGT</text>
<rect x="437.70" y="113.70" width="12.20" height="11.40" fill="#00A876" stroke="#1f1f1f" stroke-width="1.05"/>
<text x="443.80" y="122.32" font-size="8.1" text-anchor="middle" fill="#0f2a21" stroke="#0f2a21" stroke-width="0">4</text>
<rect x="449.90" y="113.70" width="12.20" height="11.40" fill="#00A876" stroke="#1f1f1f" stroke-width="1.05"/>
<text x="456.00" y="122.32" font-size="8.1" text-anchor="middle" fill="#0f2a21" stroke="#0f2a21" stroke-width="0">5</text>
<line x1="439.70" y1="128.10" x2="444.20" y2="128.10" stroke="#1a1a1a" stroke-width="0.7"/>
<path d="M445.00,128.10 L443.00,126.90 L443.50,128.10 L443.00,129.30Z" fill="#1a1a1a"/>
<line x1="452.00" y1="128.10" x2="456.30" y2="128.10" stroke="#1a1a1a" stroke-width="0.7"/>
<path d="M451.20,128.10 L453.20,126.90 L452.70,128.10 L453.20,129.30Z" fill="#1a1a1a"/>
<text transform="translate(415.60 144.60) scale(0.94 1)" font-size="14.5" font-weight="bold" fill="#111">c</text>
<text x="445.70" y="146.60" font-size="8.1" text-anchor="middle" font-weight="bold" font-style="italic" fill="#1a1a1a" stroke="#1a1a1a" stroke-width="0.12">OGT</text>
<rect x="427.80" y="150.00" width="12.30" height="11.90" fill="#00B2EE" stroke="#1f1f1f" stroke-width="1.05"/>
<text x="433.95" y="158.87" font-size="8.1" text-anchor="middle" fill="#14222b" stroke="#14222b" stroke-width="0">4</text>
<rect x="440.10" y="150.00" width="11.80" height="11.90" fill="#F15A22" stroke="#1f1f1f" stroke-width="1.05"/>
<text x="446.00" y="158.87" font-size="8.1" text-anchor="middle" fill="#5a2410" stroke="#5a2410" stroke-width="0">PE</text>
<rect x="451.90" y="150.00" width="11.70" height="11.90" fill="#00B2EE" stroke="#1f1f1f" stroke-width="1.05"/>
<text x="457.75" y="158.87" font-size="8.1" text-anchor="middle" fill="#14222b" stroke="#14222b" stroke-width="0">5</text>
<line x1="433.20" y1="165.30" x2="437.40" y2="165.30" stroke="#1a1a1a" stroke-width="0.7"/>
<path d="M438.20,165.30 L436.20,164.10 L436.70,165.30 L436.20,166.50Z" fill="#1a1a1a"/>
<line x1="454.60" y1="165.30" x2="458.80" y2="165.30" stroke="#1a1a1a" stroke-width="0.7"/>
<path d="M453.80,165.30 L455.80,164.10 L455.30,165.30 L455.80,166.50Z" fill="#1a1a1a"/>
<line x1="440.50" y1="170.20" x2="452.80" y2="170.20" stroke="#1a1a1a" stroke-width="1.0"/>
<line x1="440.50" y1="168.20" x2="440.50" y2="172.20" stroke="#1a1a1a" stroke-width="1.0"/>
<line x1="452.80" y1="168.20" x2="452.80" y2="172.20" stroke="#1a1a1a" stroke-width="1.0"/>
<text x="447.00" y="179.00" font-size="7.0" text-anchor="middle" fill="#1a1a1a" stroke="#1a1a1a" stroke-width="0.08">146 bp</text>
<text transform="translate(515.10 10.40) scale(0.94 1)" font-size="14.5" font-weight="bold" fill="#111">d</text>
<text x="526.00" y="55.40" font-size="7.0" fill="#1a1a1a" transform="rotate(-59.5 526.00 55.40)" stroke="#1a1a1a" stroke-width="0.08">DMSO</text>
<text x="537.20" y="55.40" font-size="7.0" fill="#1a1a1a" transform="rotate(-59.5 537.20 55.40)" stroke="#1a1a1a" stroke-width="0.08">10 µM OSMI-4b</text>
<text x="548.00" y="55.40" font-size="7.0" fill="#1a1a1a" transform="rotate(-59.5 548.00 55.40)" stroke="#1a1a1a" stroke-width="0.08">1 µM TMG</text>
<text x="559.00" y="55.40" font-size="7.0" fill="#1a1a1a" transform="rotate(-59.5 559.00 55.40)" stroke="#1a1a1a" stroke-width="0.08">50 µM GSK690693</text>
<text x="570.80" y="55.40" font-size="7.0" fill="#1a1a1a" transform="rotate(-59.5 570.80 55.40)" stroke="#1a1a1a" stroke-width="0.08">50 µM Y-33075</text>
<rect x="519.20" y="57.10" width="56.70" height="27.70" fill="url(#geld)" stroke="#0a0a0a" stroke-width="0.9"/>
<rect x="522.10" y="79.00" width="8.40" height="1.9" fill="#a0a0a0" opacity="0.68" filter="url(#b1)"/>
<rect x="532.30" y="79.00" width="9.10" height="1.9" fill="#a0a0a0" opacity="0.68" filter="url(#b1)"/>
<rect x="543.40" y="78.50" width="9.30" height="1.9" fill="#a0a0a0" opacity="0.72" filter="url(#b1)"/>
<rect x="554.70" y="78.50" width="9.10" height="1.9" fill="#a0a0a0" opacity="0.68" filter="url(#b1)"/>
<rect x="566.20" y="79.00" width="8.10" height="1.9" fill="#a0a0a0" opacity="0.38" filter="url(#b1)"/>
<rect x="566.0" y="62.8" width="8.6" height="2.3" fill="#b4b4b4" opacity="0.8" filter="url(#b1)"/>
<text x="576.60" y="55.90" font-size="7.0" fill="#1a1a1a" stroke="#1a1a1a" stroke-width="0.08">kbp</text>
<line x1="575.90" y1="59.60" x2="580.00" y2="59.60" stroke="#1a1a1a" stroke-width="0.8"/>
<text x="580.80" y="62.10" font-size="7.0" fill="#1a1a1a" stroke="#1a1a1a" stroke-width="0.08">0.5</text>
<line x1="575.90" y1="65.30" x2="580.00" y2="65.30" stroke="#1a1a1a" stroke-width="0.8"/>
<text x="580.80" y="67.80" font-size="7.0" fill="#1a1a1a" stroke="#1a1a1a" stroke-width="0.08">0.4</text>
<line x1="575.90" y1="71.60" x2="580.00" y2="71.60" stroke="#1a1a1a" stroke-width="0.8"/>
<text x="580.80" y="74.10" font-size="7.0" fill="#1a1a1a" stroke="#1a1a1a" stroke-width="0.08">0.3</text>
<line x1="575.90" y1="79.40" x2="580.00" y2="79.40" stroke="#1a1a1a" stroke-width="0.8"/>
<text x="580.80" y="81.90" font-size="7.0" fill="#1a1a1a" stroke="#1a1a1a" stroke-width="0.08">0.2</text>
<text x="578.40" y="68.90" font-size="11.5" text-anchor="middle" font-weight="bold" fill="#F15A22" stroke="#F15A22" stroke-width="0.12">*</text>
<text x="504.70" y="94.30" font-size="7.0" text-anchor="middle" fill="#1a1a1a" stroke="#1a1a1a" stroke-width="0.08">desired/</text>
<text x="504.30" y="103.20" font-size="7.0" text-anchor="middle" fill="#1a1a1a" stroke="#1a1a1a" stroke-width="0.08">total</text>
<text x="524.20" y="98.30" font-size="7.0" text-anchor="middle" fill="#1a1a1a" stroke="#1a1a1a" stroke-width="0.08">1</text>
<text x="536.00" y="98.30" font-size="7.0" text-anchor="middle" fill="#1a1a1a" stroke="#1a1a1a" stroke-width="0.08">1</text>
<text x="547.70" y="98.30" font-size="7.0" text-anchor="middle" fill="#1a1a1a" stroke="#1a1a1a" stroke-width="0.08">1</text>
<text x="559.80" y="98.30" font-size="7.0" text-anchor="middle" fill="#1a1a1a" stroke="#1a1a1a" stroke-width="0.08">1</text>
<text x="570.80" y="98.30" font-size="7.0" text-anchor="middle" fill="#1a1a1a" stroke="#1a1a1a" stroke-width="0.08">0.3</text>
<text x="547.00" y="109.90" font-size="8.1" text-anchor="middle" font-weight="bold" font-style="italic" fill="#1a1a1a" stroke="#1a1a1a" stroke-width="0.12">OGA</text>
<rect x="526.40" y="114.70" width="14.10" height="9.50" fill="#BFBFBF" stroke="#1f1f1f" stroke-width="1.05"/>
<text x="533.45" y="122.37" font-size="8.1" text-anchor="middle" fill="#2c2c2c" stroke="#2c2c2c" stroke-width="0">DI1</text>
<rect x="540.50" y="113.70" width="11.80" height="11.40" fill="#00B2EE" stroke="#1f1f1f" stroke-width="1.05"/>
<text x="546.40" y="122.32" font-size="8.1" text-anchor="middle" fill="#14222b" stroke="#14222b" stroke-width="0">11</text>
<rect x="552.30" y="113.70" width="11.80" height="11.40" fill="#00B2EE" stroke="#1f1f1f" stroke-width="1.05"/>
<text x="558.20" y="122.32" font-size="8.1" text-anchor="middle" fill="#14222b" stroke="#14222b" stroke-width="0">12</text>
<line x1="534.20" y1="128.10" x2="538.40" y2="128.10" stroke="#1a1a1a" stroke-width="0.7"/>
<path d="M539.20,128.10 L537.20,126.90 L537.70,128.10 L537.20,129.30Z" fill="#1a1a1a"/>
<line x1="553.10" y1="128.10" x2="557.40" y2="128.10" stroke="#1a1a1a" stroke-width="0.7"/>
<path d="M552.30,128.10 L554.30,126.90 L553.80,128.10 L554.30,129.30Z" fill="#1a1a1a"/>
<text transform="translate(519.80 144.60) scale(0.94 1)" font-size="14.5" font-weight="bold" fill="#111">e</text>
<text x="555.80" y="146.60" font-size="8.1" text-anchor="middle" font-weight="bold" font-style="italic" fill="#1a1a1a" stroke="#1a1a1a" stroke-width="0.12">OGA</text>
<rect x="531.30" y="151.30" width="14.10" height="8.70" fill="#BFBFBF" stroke="#1f1f1f" stroke-width="1.05"/>
<text x="538.35" y="158.57" font-size="8.1" text-anchor="middle" fill="#2c2c2c" stroke="#2c2c2c" stroke-width="0">DI1</text>
<rect x="557.20" y="152.00" width="8.40" height="7.90" fill="#D868AA" stroke="#1f1f1f" stroke-width="1.05"/>
<rect x="545.40" y="150.00" width="11.80" height="11.00" fill="#00B2EE" stroke="#1f1f1f" stroke-width="1.05"/>
<text x="551.30" y="158.42" font-size="8.1" text-anchor="middle" fill="#14222b" stroke="#14222b" stroke-width="0">11</text>
<rect x="565.60" y="150.00" width="11.80" height="11.00" fill="#00B2EE" stroke="#1f1f1f" stroke-width="1.05"/>
<text x="571.50" y="158.42" font-size="8.1" text-anchor="middle" fill="#14222b" stroke="#14222b" stroke-width="0">12</text>
<line x1="539.10" y1="164.80" x2="543.30" y2="164.80" stroke="#1a1a1a" stroke-width="0.7"/>
<path d="M544.10,164.80 L542.10,163.60 L542.60,164.80 L542.10,166.00Z" fill="#1a1a1a"/>
<line x1="566.80" y1="164.80" x2="571.00" y2="164.80" stroke="#1a1a1a" stroke-width="0.7"/>
<path d="M566.00,164.80 L568.00,163.60 L567.50,164.80 L568.00,166.00Z" fill="#1a1a1a"/>
<line x1="557.40" y1="170.20" x2="566.60" y2="170.20" stroke="#1a1a1a" stroke-width="1.0"/>
<line x1="557.40" y1="168.20" x2="557.40" y2="172.20" stroke="#1a1a1a" stroke-width="1.0"/>
<line x1="566.60" y1="168.20" x2="566.60" y2="172.20" stroke="#1a1a1a" stroke-width="1.0"/>
<text x="562.00" y="179.00" font-size="7.0" text-anchor="middle" fill="#1a1a1a" stroke="#1a1a1a" stroke-width="0.08">227 bp</text>
<text transform="translate(605.30 10.40) scale(0.94 1)" font-size="14.5" font-weight="bold" fill="#111">f</text>
<text x="647.20" y="9.20" font-size="8.3" text-anchor="middle" font-style="italic" fill="#1a1a1a" stroke="#1a1a1a" stroke-width="0.45">OGA</text>
<circle cx="609.80" cy="23.80" r="0.95" fill="#222"/>
<circle cx="613.00" cy="23.80" r="0.95" fill="#222"/>
<circle cx="616.20" cy="23.80" r="0.95" fill="#222"/>
<rect x="621.60" y="19.00" width="14.10" height="9.60" fill="#BFBFBF" stroke="#1f1f1f" stroke-width="1.05"/>
<text x="628.65" y="26.72" font-size="8.1" text-anchor="middle" fill="#2c2c2c" stroke="#2c2c2c" stroke-width="0">DI1</text>
<rect x="647.50" y="19.00" width="13.70" height="9.60" fill="#BFBFBF" stroke="#1f1f1f" stroke-width="1.05"/>
<text x="654.35" y="26.72" font-size="8.1" text-anchor="middle" fill="#2c2c2c" stroke="#2c2c2c" stroke-width="0">DI2</text>
<rect x="635.70" y="18.00" width="11.80" height="11.50" fill="#00B2EE" stroke="#1f1f1f" stroke-width="1.05"/>
<text x="641.60" y="26.67" font-size="8.1" text-anchor="middle" fill="#14222b" stroke="#14222b" stroke-width="0">11</text>
<rect x="661.20" y="18.00" width="11.80" height="11.50" fill="#00B2EE" stroke="#1f1f1f" stroke-width="1.05"/>
<text x="667.10" y="26.67" font-size="8.1" text-anchor="middle" fill="#14222b" stroke="#14222b" stroke-width="0">12</text>
<circle cx="677.10" cy="23.80" r="0.95" fill="#222"/>
<circle cx="680.30" cy="23.80" r="0.95" fill="#222"/>
<circle cx="683.50" cy="23.80" r="0.95" fill="#222"/>
<path d="M647.6,18.0 L654.3,11.7 L661.0,18.0" fill="none" stroke="#222" stroke-width="1.1"/>
<path d="M653.1,30.0 L657.0,35.8 L660.9,30.0" fill="none" stroke="#222" stroke-width="1.1" stroke-dasharray="2 1.3"/>
<line x1="647.40" y1="39.20" x2="647.40" y2="51.20" stroke="#222" stroke-width="1.1"/>
<path d="M647.4,53.2 L645.6,49.4 L647.4,50.2 L649.2,49.4Z" fill="#222"/>
<circle cx="609.80" cy="66.30" r="0.95" fill="#222"/>
<circle cx="613.00" cy="66.30" r="0.95" fill="#222"/>
<circle cx="616.20" cy="66.30" r="0.95" fill="#222"/>
<rect x="621.60" y="61.70" width="14.10" height="8.90" fill="#BFBFBF" stroke="#1f1f1f" stroke-width="1.05"/>
<text x="628.65" y="69.07" font-size="8.1" text-anchor="middle" fill="#2c2c2c" stroke="#2c2c2c" stroke-width="0">DI1</text>
<rect x="647.50" y="62.30" width="8.40" height="7.90" fill="#D868AA" stroke="#1f1f1f" stroke-width="1.05"/>
<rect x="635.70" y="60.80" width="11.80" height="11.00" fill="#00B2EE" stroke="#1f1f1f" stroke-width="1.05"/>
<text x="641.60" y="69.22" font-size="8.1" text-anchor="middle" fill="#14222b" stroke="#14222b" stroke-width="0">11</text>
<rect x="655.90" y="60.80" width="11.70" height="11.00" fill="#00B2EE" stroke="#1f1f1f" stroke-width="1.05"/>
<text x="661.75" y="69.22" font-size="8.1" text-anchor="middle" fill="#14222b" stroke="#14222b" stroke-width="0">12</text>
<circle cx="671.60" cy="66.30" r="0.95" fill="#222"/>
<circle cx="674.80" cy="66.30" r="0.95" fill="#222"/>
<circle cx="678.00" cy="66.30" r="0.95" fill="#222"/>
<line x1="647.00" y1="78.50" x2="656.50" y2="78.50" stroke="#1a1a1a" stroke-width="1.0"/>
<line x1="647.00" y1="76.50" x2="647.00" y2="80.50" stroke="#1a1a1a" stroke-width="1.0"/>
<line x1="656.50" y1="76.50" x2="656.50" y2="80.50" stroke="#1a1a1a" stroke-width="1.0"/>
<text x="651.40" y="87.20" font-size="7.0" text-anchor="middle" fill="#1a1a1a" stroke="#1a1a1a" stroke-width="0.08">sub-DI2</text>
<text transform="translate(7.60 174.50) scale(0.94 1)" font-size="14.5" font-weight="bold" fill="#111">g</text>
<text x="25.60" y="190.80" font-size="8.1" text-anchor="middle" fill="#1a1a1a" stroke="#1a1a1a" stroke-width="0.22">Acceptor</text>
<text x="25.60" y="200.60" font-size="8.1" text-anchor="middle" fill="#1a1a1a" stroke="#1a1a1a" stroke-width="0.22">score</text>
<text x="25.60" y="220.40" font-size="8.1" text-anchor="middle" fill="#1a1a1a" stroke="#1a1a1a" stroke-width="0.22">Donor</text>
<text x="25.60" y="230.20" font-size="8.1" text-anchor="middle" fill="#1a1a1a" stroke="#1a1a1a" stroke-width="0.22">score</text>
<text x="42.70" y="188.90" font-size="8.1" fill="#1a1a1a" stroke="#1a1a1a" stroke-width="0.22">1.0</text>
<text x="42.30" y="232.20" font-size="8.1" fill="#1a1a1a" stroke="#1a1a1a" stroke-width="0.22">-1.0</text>
<line x1="62.40" y1="185.90" x2="62.40" y2="230.70" stroke="#111" stroke-width="1.2"/>
<line x1="60.20" y1="186.50" x2="62.40" y2="186.50" stroke="#111" stroke-width="1.1"/>
<line x1="60.20" y1="230.10" x2="62.40" y2="230.10" stroke="#111" stroke-width="1.1"/>
<line x1="60.20" y1="208.30" x2="64.80" y2="208.30" stroke="#111" stroke-width="1.1"/>
<line x1="48.10" y1="208.30" x2="664.40" y2="208.30" stroke="#111" stroke-width="1.0" stroke-dasharray="2.6 2.17"/>
<line x1="79.20" y1="202.90" x2="79.20" y2="208.70" stroke="#F15A22" stroke-width="2.2"/>
<line x1="203.10" y1="190.80" x2="203.10" y2="208.70" stroke="#F15A22" stroke-width="2.2"/>
<line x1="245.10" y1="205.20" x2="245.10" y2="208.70" stroke="#F15A22" stroke-width="2.2"/>
<line x1="371.60" y1="199.20" x2="371.60" y2="208.70" stroke="#F15A22" stroke-width="2.2"/>
<line x1="593.10" y1="187.00" x2="593.10" y2="208.70" stroke="#F15A22" stroke-width="2.2"/>
<line x1="613.50" y1="206.40" x2="613.50" y2="208.70" stroke="#F15A22" stroke-width="2.2"/>
<line x1="120.60" y1="207.90" x2="120.60" y2="212.00" stroke="#0072B8" stroke-width="2.3"/>
<line x1="231.10" y1="207.90" x2="231.10" y2="226.80" stroke="#0072B8" stroke-width="2.3"/>
<line x1="284.90" y1="207.90" x2="284.90" y2="210.70" stroke="#0072B8" stroke-width="2.3"/>
<line x1="294.50" y1="207.90" x2="294.50" y2="209.60" stroke="#5aa7dc" stroke-width="2.3"/>
<line x1="428.30" y1="207.90" x2="428.30" y2="209.50" stroke="#5aa7dc" stroke-width="2.3"/>
<line x1="440.00" y1="207.90" x2="440.00" y2="209.50" stroke="#3a8fd0" stroke-width="2.3"/>
<line x1="458.90" y1="207.90" x2="458.90" y2="210.40" stroke="#0072B8" stroke-width="2.3"/>
<line x1="643.80" y1="207.90" x2="643.80" y2="229.80" stroke="#0072B8" stroke-width="2.3"/>
<line x1="231.20" y1="245.60" x2="231.20" y2="235.60" stroke="#D868AA" stroke-width="1.0"/>
<path d="M231.2,232.0 L229.2,237.2 L231.2,236.4 L233.2,237.2Z" fill="#D868AA"/>
<text x="26.20" y="252.30" font-size="8.1" font-weight="bold" fill="#1a1a1a" stroke="#1a1a1a" stroke-width="0.12">OGA</text>
<rect x="49.00" y="248.90" width="30.00" height="2.60" fill="#808285"/>
<rect x="231.10" y="247.00" width="362.20" height="6.40" fill="#808285"/>
<rect x="120.90" y="246.70" width="110.20" height="6.90" fill="#D868AA"/>
<rect x="78.70" y="245.40" width="42.30" height="9.60" fill="#00B2EE"/>
<rect x="593.10" y="245.40" width="51.10" height="9.60" fill="#00B2EE"/>
<rect x="644.20" y="249.00" width="11.50" height="2.60" fill="#808285"/>
<path d="M662.2,250.3 L655.0,247.4 L655.0,253.2Z" fill="#808285"/>
<text x="50.00" y="263.40" font-size="8.1" fill="#1a1a1a" stroke="#1a1a1a" stroke-width="0.22">5'</text>
<text x="656.40" y="263.40" font-size="8.1" fill="#1a1a1a" stroke="#1a1a1a" stroke-width="0.22">3'</text>
<text x="85.7" y="263.2" font-size="8.3"><tspan fill="#00B2EE" stroke="#00B2EE" stroke-width="0.2">TTCCAG</tspan><tspan fill="#808285">|</tspan><tspan fill="#D868AA">GTATCA</tspan></text>
<text x="196.6" y="263.2" font-size="8.3"><tspan fill="#D868AA">CTCTAG</tspan><tspan fill="#808285">|GTATAC</tspan></text>
<text x="556.0" y="263.2" font-size="8.3"><tspan fill="#808285">CCACAG|</tspan><tspan fill="#00B2EE">CGTTTG</tspan></text>
<line x1="78.60" y1="278.90" x2="644.10" y2="278.90" stroke="#111" stroke-width="1.0"/>
<line x1="78.60" y1="275.80" x2="78.60" y2="282.10" stroke="#111" stroke-width="1.0"/>
<line x1="120.50" y1="275.80" x2="120.50" y2="282.10" stroke="#111" stroke-width="1.0"/>
<line x1="592.90" y1="275.80" x2="592.90" y2="282.10" stroke="#111" stroke-width="1.0"/>
<line x1="644.10" y1="275.80" x2="644.10" y2="282.10" stroke="#111" stroke-width="1.0"/>
<text x="99.30" y="296.80" font-size="8.0" text-anchor="middle" fill="#1a1a1a" stroke="#1a1a1a" stroke-width="0.22">Exon 11</text>
<text x="359.00" y="296.80" font-size="8.0" text-anchor="middle" fill="#1a1a1a" stroke="#1a1a1a" stroke-width="0.22">DI2</text>
<text x="618.60" y="296.80" font-size="8.0" text-anchor="middle" fill="#1a1a1a" stroke="#1a1a1a" stroke-width="0.22">Exon 12</text>
<line x1="120.50" y1="304.40" x2="231.10" y2="304.40" stroke="#111" stroke-width="1.0"/>
<line x1="120.50" y1="301.30" x2="120.50" y2="307.60" stroke="#111" stroke-width="1.0"/>
<line x1="231.10" y1="301.30" x2="231.10" y2="307.60" stroke="#111" stroke-width="1.0"/>
<text x="176.00" y="316.40" font-size="8.0" text-anchor="middle" fill="#1a1a1a" stroke="#1a1a1a" stroke-width="0.22">sub-DI2</text>
<line x1="49.30" y1="331.40" x2="662.20" y2="331.40" stroke="#111" stroke-width="1.0"/>
<line x1="77.80" y1="331.40" x2="77.80" y2="335.80" stroke="#111" stroke-width="1.0"/>
<text x="78.10" y="345.70" font-size="8.4" text-anchor="middle" fill="#1a1a1a" stroke="#1a1a1a" stroke-width="0.22">101,794,000</text>
<line x1="321.10" y1="331.40" x2="321.10" y2="335.80" stroke="#111" stroke-width="1.0"/>
<text x="321.40" y="345.70" font-size="8.4" text-anchor="middle" fill="#1a1a1a" stroke="#1a1a1a" stroke-width="0.22">101,793,500</text>
<line x1="565.30" y1="331.40" x2="565.30" y2="335.80" stroke="#111" stroke-width="1.0"/>
<text x="565.60" y="345.70" font-size="8.4" text-anchor="middle" fill="#1a1a1a" stroke="#1a1a1a" stroke-width="0.22">101,793,000</text>
<text x="4.30" y="345.70" font-size="8.4" fill="#1a1a1a" stroke="#1a1a1a" stroke-width="0.22">Position (bp)</text>
<text transform="translate(128.90 362.70) scale(0.94 1)" font-size="14.5" font-weight="bold" fill="#111">h</text>
<text x="140.30" y="421.20" font-size="8.1" text-anchor="middle" font-weight="bold" fill="#000" transform="rotate(-90 140.30 421.20)" stroke="#000" stroke-width="0.12">Normalized transcript level</text>
<line x1="171.00" y1="367.20" x2="171.00" y2="469.95" stroke="#000" stroke-width="2.1"/>
<line x1="163.20" y1="469.20" x2="233.60" y2="469.20" stroke="#000" stroke-width="1.5"/>
<line x1="163.20" y1="368.04" x2="171.00" y2="368.04" stroke="#000" stroke-width="1.5"/>
<text x="161.20" y="370.99" font-size="8.2" text-anchor="end" font-weight="bold" fill="#000" stroke="#000" stroke-width="0.12">100</text>
<line x1="163.20" y1="401.77" x2="171.00" y2="401.77" stroke="#000" stroke-width="1.5"/>
<text x="161.20" y="404.72" font-size="8.2" text-anchor="end" font-weight="bold" fill="#000" stroke="#000" stroke-width="0.12">10</text>
<line x1="163.20" y1="435.50" x2="171.00" y2="435.50" stroke="#000" stroke-width="1.5"/>
<text x="161.20" y="438.45" font-size="8.2" text-anchor="end" font-weight="bold" fill="#000" stroke="#000" stroke-width="0.12">1</text>
<line x1="163.20" y1="469.23" x2="171.00" y2="469.23" stroke="#000" stroke-width="1.5"/>
<text x="161.20" y="472.18" font-size="8.2" text-anchor="end" font-weight="bold" fill="#000" stroke="#000" stroke-width="0.12">0.1</text>
<line x1="166.60" y1="459.08" x2="171.00" y2="459.08" stroke="#000" stroke-width="1.1"/>
<line x1="166.60" y1="453.14" x2="171.00" y2="453.14" stroke="#000" stroke-width="1.1"/>
<line x1="166.60" y1="448.92" x2="171.00" y2="448.92" stroke="#000" stroke-width="1.1"/>
<line x1="166.60" y1="445.65" x2="171.00" y2="445.65" stroke="#000" stroke-width="1.1"/>
<line x1="166.60" y1="442.98" x2="171.00" y2="442.98" stroke="#000" stroke-width="1.1"/>
<line x1="166.60" y1="440.72" x2="171.00" y2="440.72" stroke="#000" stroke-width="1.1"/>
<line x1="166.60" y1="438.77" x2="171.00" y2="438.77" stroke="#000" stroke-width="1.1"/>
<line x1="166.60" y1="437.04" x2="171.00" y2="437.04" stroke="#000" stroke-width="1.1"/>
<line x1="166.60" y1="425.35" x2="171.00" y2="425.35" stroke="#000" stroke-width="1.1"/>
<line x1="166.60" y1="419.41" x2="171.00" y2="419.41" stroke="#000" stroke-width="1.1"/>
<line x1="166.60" y1="415.19" x2="171.00" y2="415.19" stroke="#000" stroke-width="1.1"/>
<line x1="166.60" y1="411.92" x2="171.00" y2="411.92" stroke="#000" stroke-width="1.1"/>
<line x1="166.60" y1="409.25" x2="171.00" y2="409.25" stroke="#000" stroke-width="1.1"/>
<line x1="166.60" y1="406.99" x2="171.00" y2="406.99" stroke="#000" stroke-width="1.1"/>
<line x1="166.60" y1="405.04" x2="171.00" y2="405.04" stroke="#000" stroke-width="1.1"/>
<line x1="166.60" y1="403.31" x2="171.00" y2="403.31" stroke="#000" stroke-width="1.1"/>
<line x1="166.60" y1="391.62" x2="171.00" y2="391.62" stroke="#000" stroke-width="1.1"/>
<line x1="166.60" y1="385.68" x2="171.00" y2="385.68" stroke="#000" stroke-width="1.1"/>
<line x1="166.60" y1="381.46" x2="171.00" y2="381.46" stroke="#000" stroke-width="1.1"/>
<line x1="166.60" y1="378.19" x2="171.00" y2="378.19" stroke="#000" stroke-width="1.1"/>
<line x1="166.60" y1="375.52" x2="171.00" y2="375.52" stroke="#000" stroke-width="1.1"/>
<line x1="166.60" y1="373.26" x2="171.00" y2="373.26" stroke="#000" stroke-width="1.1"/>
<line x1="166.60" y1="371.31" x2="171.00" y2="371.31" stroke="#000" stroke-width="1.1"/>
<line x1="166.60" y1="369.58" x2="171.00" y2="369.58" stroke="#000" stroke-width="1.1"/>
<line x1="180.80" y1="469.20" x2="180.80" y2="476.40" stroke="#000" stroke-width="1.7"/>
<line x1="222.50" y1="469.20" x2="222.50" y2="476.40" stroke="#000" stroke-width="1.7"/>
<rect x="182.00" y="379.40" width="7.00" height="89.20" fill="#F2C878" stroke="#E69D1E" stroke-width="2.0"/>
<rect x="223.80" y="375.20" width="7.00" height="93.40" fill="#F2C878" stroke="#E69D1E" stroke-width="2.0"/>
<rect x="173.70" y="435.20" width="5.90" height="34.00" fill="#fff" stroke="#000" stroke-width="2.1"/>
<rect x="214.10" y="434.20" width="8.10" height="35.00" fill="#000"/>
<line x1="217.00" y1="437.60" x2="219.60" y2="437.60" stroke="#c8c8c8" stroke-width="0.5"/>
<line x1="217.00" y1="440.70" x2="219.60" y2="440.70" stroke="#c8c8c8" stroke-width="0.5"/>
<line x1="217.00" y1="443.80" x2="219.60" y2="443.80" stroke="#c8c8c8" stroke-width="0.5"/>
<line x1="217.00" y1="446.90" x2="219.60" y2="446.90" stroke="#c8c8c8" stroke-width="0.5"/>
<line x1="217.00" y1="450.00" x2="219.60" y2="450.00" stroke="#c8c8c8" stroke-width="0.5"/>
<line x1="217.00" y1="453.10" x2="219.60" y2="453.10" stroke="#c8c8c8" stroke-width="0.5"/>
<line x1="217.00" y1="456.20" x2="219.60" y2="456.20" stroke="#c8c8c8" stroke-width="0.5"/>
<line x1="217.00" y1="459.30" x2="219.60" y2="459.30" stroke="#c8c8c8" stroke-width="0.5"/>
<line x1="217.00" y1="462.40" x2="219.60" y2="462.40" stroke="#c8c8c8" stroke-width="0.5"/>
<line x1="217.00" y1="465.50" x2="219.60" y2="465.50" stroke="#c8c8c8" stroke-width="0.5"/>
<line x1="218.30" y1="437.00" x2="218.30" y2="467.00" stroke="#999" stroke-width="0.35"/>
<circle cx="175.0" cy="433.9" r="0.55" fill="#000"/>
<circle cx="176.7" cy="433.9" r="0.55" fill="#000"/>
<circle cx="178.4" cy="433.9" r="0.55" fill="#000"/>
<circle cx="216.4" cy="433.8" r="0.55" fill="#000"/>
<circle cx="218.2" cy="433.8" r="0.55" fill="#000"/>
<circle cx="220.0" cy="433.8" r="0.55" fill="#000"/>
<line x1="185.50" y1="374.60" x2="185.50" y2="378.60" stroke="#E69D1E" stroke-width="1.2"/>
<circle cx="185.5" cy="375.9" r="1.8" fill="#E69D1E"/>
<line x1="227.30" y1="370.60" x2="227.30" y2="381.50" stroke="#E69D1E" stroke-width="1.1"/>
<line x1="225.00" y1="371.00" x2="229.60" y2="371.00" stroke="#E69D1E" stroke-width="1.1"/>
<circle cx="225.4" cy="371.4" r="1.5" fill="#E69D1E"/>
<circle cx="229.2" cy="374.8" r="1.4" fill="#E69D1E"/>
<circle cx="227.4" cy="380.6" r="1.4" fill="#E69D1E"/>
<text x="180.20" y="366.40" font-size="7.0" text-anchor="middle" fill="#1a1a1a" stroke="#1a1a1a" stroke-width="0.08">0.0006</text>
<line x1="176.00" y1="368.50" x2="184.80" y2="368.50" stroke="#1a1a1a" stroke-width="1.0"/>
<text x="221.10" y="366.40" font-size="7.0" text-anchor="middle" fill="#1a1a1a" stroke="#1a1a1a" stroke-width="0.08">0.0025</text>
<line x1="216.60" y1="368.50" x2="225.60" y2="368.50" stroke="#1a1a1a" stroke-width="1.0"/>
<text x="204.80" y="355.00" font-size="7.0" text-anchor="middle" fill="#1a1a1a" stroke="#1a1a1a" stroke-width="0.08">0.3758</text>
<line x1="185.10" y1="357.10" x2="225.30" y2="357.10" stroke="#1a1a1a" stroke-width="1.0"/>
<rect x="252.10" y="407.10" width="11.20" height="5.60" fill="#000"/>
<line x1="256.00" y1="409.20" x2="256.00" y2="410.20" stroke="#ccc" stroke-width="0.5"/>
<line x1="257.50" y1="409.20" x2="257.50" y2="410.20" stroke="#ccc" stroke-width="0.5"/>
<line x1="259.00" y1="409.20" x2="259.00" y2="410.20" stroke="#ccc" stroke-width="0.5"/>
<rect x="252.70" y="421.30" width="10.00" height="4.50" fill="#F2C878" stroke="#E69D1E" stroke-width="1.3"/>
<text x="268.90" y="412.90" font-size="8.45" fill="#1a1a1a" stroke="#1a1a1a" stroke-width="0.22">DMSO</text>
<text x="268.90" y="426.60" font-size="8.45" fill="#1a1a1a" stroke="#1a1a1a" stroke-width="0.22">50 µM Y-33075</text>
<rect x="175.50" y="480.50" width="8.80" height="9.90" fill="#D868AA" stroke="#1f1f1f" stroke-width="1.05"/>
<rect x="163.90" y="479.80" width="11.60" height="11.40" fill="#00B2EE" stroke="#1f1f1f" stroke-width="1.05"/>
<text x="169.70" y="488.42" font-size="8.1" text-anchor="middle" fill="#14222b" stroke="#14222b" stroke-width="0">11</text>
<rect x="184.30" y="479.80" width="11.70" height="11.40" fill="#00B2EE" stroke="#1f1f1f" stroke-width="1.05"/>
<text x="190.15" y="488.42" font-size="8.1" text-anchor="middle" fill="#14222b" stroke="#14222b" stroke-width="0">12</text>
<rect x="198.60" y="481.00" width="13.90" height="9.00" fill="#BFBFBF" stroke="#1f1f1f" stroke-width="1.05"/>
<text x="205.55" y="488.42" font-size="8.1" text-anchor="middle" fill="#2c2c2c" stroke="#2c2c2c" stroke-width="0">DI1</text>
<rect x="224.60" y="480.50" width="8.40" height="9.90" fill="#D868AA" stroke="#1f1f1f" stroke-width="1.05"/>
<rect x="212.50" y="479.80" width="12.10" height="11.40" fill="#00B2EE" stroke="#1f1f1f" stroke-width="1.05"/>
<text x="218.55" y="488.42" font-size="8.1" text-anchor="middle" fill="#14222b" stroke="#14222b" stroke-width="0">11</text>
<rect x="233.00" y="479.80" width="11.60" height="11.40" fill="#00B2EE" stroke="#1f1f1f" stroke-width="1.05"/>
<text x="238.80" y="488.42" font-size="8.1" text-anchor="middle" fill="#14222b" stroke="#14222b" stroke-width="0">12</text>
<line x1="169.60" y1="494.30" x2="174.10" y2="494.30" stroke="#1a1a1a" stroke-width="0.7"/>
<path d="M174.90,494.30 L172.90,493.10 L173.40,494.30 L172.90,495.50Z" fill="#1a1a1a"/>
<line x1="181.80" y1="494.30" x2="186.10" y2="494.30" stroke="#1a1a1a" stroke-width="0.7"/>
<path d="M181.00,494.30 L183.00,493.10 L182.50,494.30 L183.00,495.50Z" fill="#1a1a1a"/>
<line x1="206.40" y1="494.30" x2="210.80" y2="494.30" stroke="#1a1a1a" stroke-width="0.7"/>
<path d="M211.60,494.30 L209.60,493.10 L210.10,494.30 L209.60,495.50Z" fill="#1a1a1a"/>
<line x1="230.40" y1="494.30" x2="234.80" y2="494.30" stroke="#1a1a1a" stroke-width="0.7"/>
<path d="M229.60,494.30 L231.60,493.10 L231.10,494.30 L231.60,495.50Z" fill="#1a1a1a"/>
<line x1="164.60" y1="499.30" x2="253.90" y2="499.30" stroke="#111" stroke-width="1.15"/>
<text x="164.7" y="508.2" font-size="8.25" fill="#1a1a1a" stroke="#1a1a1a" stroke-width="0.2"><tspan font-style="italic">OGA</tspan> RT-qPCR products</text>
<text transform="translate(341.20 392.80) scale(0.94 1)" font-size="14.5" font-weight="bold" fill="#111">i</text>
<text x="373.60" y="391.90" font-size="7.15" fill="#1a1a1a" stroke="#1a1a1a" stroke-width="0.08">Y-33075 (50 µM)</text>
<rect x="430.00" y="395.40" width="23.40" height="39.40" fill="url(#geli)" stroke="#0a0a0a" stroke-width="0.8"/>
<rect x="431.60" y="397" width="9.2" height="37" fill="#666" opacity="0.3" filter="url(#b1)"/>
<rect x="442.60" y="397" width="9.4" height="37" fill="#666" opacity="0.3" filter="url(#b1)"/>
<rect x="431.30" y="408.90" width="9.6" height="1.8" fill="#fff" opacity="1" filter="url(#b1)"/>
<rect x="442.10" y="407.60" width="10.2" height="5.0" fill="#ddd" opacity="0.45" filter="url(#b2)"/>
<rect x="442.10" y="408.75" width="10.2" height="2.7" fill="#fff" opacity="1" filter="url(#b1)"/>
<rect x="431.30" y="421.95" width="9.6" height="1.5" fill="#888" opacity="0.25" filter="url(#b1)"/>
<rect x="431.30" y="429.75" width="9.6" height="1.5" fill="#888" opacity="0.25" filter="url(#b1)"/>
<rect x="431.30" y="401.25" width="9.6" height="1.5" fill="#888" opacity="0.15" filter="url(#b1)"/>
<circle cx="436.20" cy="389.7" r="2.2" fill="#fff" stroke="#111" stroke-width="1.0"/>
<circle cx="447.40" cy="389.7" r="2.7" fill="#111"/>
<text x="454.00" y="393.60" font-size="7.0" fill="#1a1a1a" stroke="#1a1a1a" stroke-width="0.08">kbp</text>
<line x1="453.40" y1="398.10" x2="456.90" y2="398.10" stroke="#1a1a1a" stroke-width="0.9"/>
<text x="457.90" y="400.70" font-size="7.0" fill="#1a1a1a" stroke="#1a1a1a" stroke-width="0.08">0.5</text>
<line x1="453.40" y1="403.00" x2="456.90" y2="403.00" stroke="#1a1a1a" stroke-width="0.9"/>
<text x="457.90" y="405.60" font-size="7.0" fill="#1a1a1a" stroke="#1a1a1a" stroke-width="0.08">0.4</text>
<line x1="453.40" y1="407.80" x2="456.90" y2="407.80" stroke="#1a1a1a" stroke-width="0.9"/>
<text x="457.90" y="410.40" font-size="7.0" fill="#1a1a1a" stroke="#1a1a1a" stroke-width="0.08">0.3</text>
<line x1="453.40" y1="414.40" x2="456.90" y2="414.40" stroke="#1a1a1a" stroke-width="0.9"/>
<text x="457.90" y="417.00" font-size="7.0" fill="#1a1a1a" stroke="#1a1a1a" stroke-width="0.08">0.2</text>
<line x1="453.40" y1="425.40" x2="456.90" y2="425.40" stroke="#1a1a1a" stroke-width="0.9"/>
<text x="457.90" y="428.00" font-size="7.0" fill="#1a1a1a" stroke="#1a1a1a" stroke-width="0.08">0.1</text>
<text x="455.70" y="416.10" font-size="10.5" text-anchor="middle" font-weight="bold" fill="#D868AA" stroke="#D868AA" stroke-width="0.12">*</text>
<text x="435.20" y="447.40" font-size="7.0" text-anchor="middle" fill="#1a1a1a" stroke="#1a1a1a" stroke-width="0.08">1</text>
<text x="448.00" y="447.40" font-size="7.0" text-anchor="middle" fill="#1a1a1a" stroke="#1a1a1a" stroke-width="0.08">1</text>
<rect x="481.10" y="395.40" width="23.40" height="39.40" fill="url(#geli)" stroke="#0a0a0a" stroke-width="0.8"/>
<rect x="482.70" y="397" width="9.2" height="37" fill="#666" opacity="0.3" filter="url(#b1)"/>
<rect x="493.70" y="397" width="9.4" height="37" fill="#666" opacity="0.3" filter="url(#b1)"/>
<rect x="482.40" y="401.30" width="9.6" height="5.0" fill="#ddd" opacity="0.45" filter="url(#b2)"/>
<rect x="493.20" y="401.30" width="10.2" height="5.0" fill="#ddd" opacity="0.45" filter="url(#b2)"/>
<rect x="482.40" y="402.60" width="9.6" height="2.4" fill="#fff" opacity="1" filter="url(#b1)"/>
<rect x="493.20" y="402.50" width="10.2" height="2.6" fill="#fff" opacity="1" filter="url(#b1)"/>
<rect x="482.40" y="412.40" width="9.6" height="1.6" fill="#888" opacity="0.45" filter="url(#b1)"/>
<rect x="482.40" y="425.25" width="9.6" height="1.5" fill="#777" opacity="0.2" filter="url(#b1)"/>
<circle cx="487.60" cy="389.7" r="2.2" fill="#fff" stroke="#111" stroke-width="1.0"/>
<circle cx="498.90" cy="389.7" r="2.7" fill="#111"/>
<text x="505.10" y="393.60" font-size="7.0" fill="#1a1a1a" stroke="#1a1a1a" stroke-width="0.08">kbp</text>
<line x1="504.50" y1="398.10" x2="508.00" y2="398.10" stroke="#1a1a1a" stroke-width="0.9"/>
<text x="509.00" y="400.70" font-size="7.0" fill="#1a1a1a" stroke="#1a1a1a" stroke-width="0.08">0.5</text>
<line x1="504.50" y1="403.00" x2="508.00" y2="403.00" stroke="#1a1a1a" stroke-width="0.9"/>
<text x="509.00" y="405.60" font-size="7.0" fill="#1a1a1a" stroke="#1a1a1a" stroke-width="0.08">0.4</text>
<line x1="504.50" y1="407.80" x2="508.00" y2="407.80" stroke="#1a1a1a" stroke-width="0.9"/>
<text x="509.00" y="410.40" font-size="7.0" fill="#1a1a1a" stroke="#1a1a1a" stroke-width="0.08">0.3</text>
<line x1="504.50" y1="414.40" x2="508.00" y2="414.40" stroke="#1a1a1a" stroke-width="0.9"/>
<text x="509.00" y="417.00" font-size="7.0" fill="#1a1a1a" stroke="#1a1a1a" stroke-width="0.08">0.2</text>
<line x1="504.50" y1="425.40" x2="508.00" y2="425.40" stroke="#1a1a1a" stroke-width="0.9"/>
<text x="509.00" y="428.00" font-size="7.0" fill="#1a1a1a" stroke="#1a1a1a" stroke-width="0.08">0.1</text>
<text x="506.80" y="409.60" font-size="10.5" text-anchor="middle" font-weight="bold" fill="#D868AA" stroke="#D868AA" stroke-width="0.12">*</text>
<text x="487.60" y="447.40" font-size="7.0" text-anchor="middle" fill="#1a1a1a" stroke="#1a1a1a" stroke-width="0.08">0.8</text>
<text x="499.00" y="447.40" font-size="7.0" text-anchor="middle" fill="#1a1a1a" stroke="#1a1a1a" stroke-width="0.08">1</text>
<rect x="537.10" y="395.40" width="23.40" height="39.40" fill="#2b2b2b" stroke="#0a0a0a" stroke-width="0.8"/>
<rect x="538.70" y="397" width="9.2" height="37" fill="#666" opacity="0.12" filter="url(#b1)"/>
<rect x="549.70" y="397" width="9.4" height="37" fill="#666" opacity="0.12" filter="url(#b1)"/>
<rect x="538.40" y="416.25" width="9.6" height="1.9" fill="#bbb" opacity="0.75" filter="url(#b1)"/>
<rect x="538.40" y="421.90" width="9.6" height="1.8" fill="#999" opacity="0.45" filter="url(#b1)"/>
<rect x="549.20" y="405.85" width="10.2" height="1.9" fill="#aaa" opacity="0.65" filter="url(#b1)"/>
<rect x="549.20" y="416.30" width="10.2" height="2.0" fill="#ddd" opacity="0.8" filter="url(#b1)"/>
<circle cx="542.80" cy="389.7" r="2.2" fill="#fff" stroke="#111" stroke-width="1.0"/>
<circle cx="554.50" cy="389.7" r="2.7" fill="#111"/>
<text x="561.10" y="393.60" font-size="7.0" fill="#1a1a1a" stroke="#1a1a1a" stroke-width="0.08">kbp</text>
<line x1="560.50" y1="398.10" x2="564.00" y2="398.10" stroke="#1a1a1a" stroke-width="0.9"/>
<text x="565.00" y="400.70" font-size="7.0" fill="#1a1a1a" stroke="#1a1a1a" stroke-width="0.08">0.5</text>
<line x1="560.50" y1="403.00" x2="564.00" y2="403.00" stroke="#1a1a1a" stroke-width="0.9"/>
<text x="565.00" y="405.60" font-size="7.0" fill="#1a1a1a" stroke="#1a1a1a" stroke-width="0.08">0.4</text>
<line x1="560.50" y1="407.80" x2="564.00" y2="407.80" stroke="#1a1a1a" stroke-width="0.9"/>
<text x="565.00" y="410.40" font-size="7.0" fill="#1a1a1a" stroke="#1a1a1a" stroke-width="0.08">0.3</text>
<line x1="560.50" y1="414.40" x2="564.00" y2="414.40" stroke="#1a1a1a" stroke-width="0.9"/>
<text x="565.00" y="417.00" font-size="7.0" fill="#1a1a1a" stroke="#1a1a1a" stroke-width="0.08">0.2</text>
<line x1="560.50" y1="425.40" x2="564.00" y2="425.40" stroke="#1a1a1a" stroke-width="0.9"/>
<text x="565.00" y="428.00" font-size="7.0" fill="#1a1a1a" stroke="#1a1a1a" stroke-width="0.08">0.1</text>
<text x="562.80" y="411.30" font-size="10.5" text-anchor="middle" font-weight="bold" fill="#D868AA" stroke="#D868AA" stroke-width="0.12">*</text>
<text x="542.30" y="447.40" font-size="7.0" text-anchor="middle" fill="#1a1a1a" stroke="#1a1a1a" stroke-width="0.08">0</text>
<text x="556.20" y="447.40" font-size="7.0" text-anchor="middle" fill="#1a1a1a" stroke="#1a1a1a" stroke-width="0.08">0.2</text>
<text x="415.30" y="442.30" font-size="7.0" text-anchor="middle" fill="#1a1a1a" stroke="#1a1a1a" stroke-width="0.08">desired/</text>
<text x="415.30" y="451.30" font-size="7.0" text-anchor="middle" fill="#1a1a1a" stroke="#1a1a1a" stroke-width="0.08">total</text>
<rect x="437.80" y="462.90" width="8.50" height="7.80" fill="#D868AA" stroke="#1f1f1f" stroke-width="1.05"/>
<rect x="425.90" y="461.30" width="11.90" height="11.10" fill="#00B2EE" stroke="#1f1f1f" stroke-width="1.05"/>
<text x="431.85" y="469.77" font-size="8.1" text-anchor="middle" fill="#14222b" stroke="#14222b" stroke-width="0">11</text>
<rect x="446.30" y="461.30" width="12.30" height="11.10" fill="#00B2EE" stroke="#1f1f1f" stroke-width="1.05"/>
<text x="452.45" y="469.77" font-size="8.1" text-anchor="middle" fill="#14222b" stroke="#14222b" stroke-width="0">12</text>
<line x1="431.50" y1="475.50" x2="435.50" y2="475.50" stroke="#1a1a1a" stroke-width="0.7"/>
<path d="M436.30,475.50 L434.30,474.30 L434.80,475.50 L434.30,476.70Z" fill="#1a1a1a"/>
<line x1="444.10" y1="475.50" x2="448.30" y2="475.50" stroke="#1a1a1a" stroke-width="0.7"/>
<path d="M443.30,475.50 L445.30,474.30 L444.80,475.50 L445.30,476.70Z" fill="#1a1a1a"/>
<rect x="469.80" y="462.30" width="13.70" height="8.50" fill="#BFBFBF" stroke="#1f1f1f" stroke-width="1.05"/>
<text x="476.65" y="469.47" font-size="8.1" text-anchor="middle" fill="#2c2c2c" stroke="#2c2c2c" stroke-width="0">DI1</text>
<rect x="495.80" y="462.90" width="8.20" height="7.80" fill="#D868AA" stroke="#1f1f1f" stroke-width="1.05"/>
<rect x="483.50" y="461.30" width="12.30" height="11.10" fill="#00B2EE" stroke="#1f1f1f" stroke-width="1.05"/>
<text x="489.65" y="469.77" font-size="8.1" text-anchor="middle" fill="#14222b" stroke="#14222b" stroke-width="0">11</text>
<rect x="504.00" y="461.30" width="11.60" height="11.10" fill="#00B2EE" stroke="#1f1f1f" stroke-width="1.05"/>
<text x="509.80" y="469.77" font-size="8.1" text-anchor="middle" fill="#14222b" stroke="#14222b" stroke-width="0">12</text>
<line x1="477.50" y1="475.50" x2="481.80" y2="475.50" stroke="#1a1a1a" stroke-width="0.7"/>
<path d="M482.60,475.50 L480.60,474.30 L481.10,475.50 L480.60,476.70Z" fill="#1a1a1a"/>
<line x1="501.80" y1="475.50" x2="506.10" y2="475.50" stroke="#1a1a1a" stroke-width="0.7"/>
<path d="M501.00,475.50 L503.00,474.30 L502.50,475.50 L503.00,476.70Z" fill="#1a1a1a"/>
<rect x="550.40" y="462.90" width="8.40" height="7.80" fill="#D868AA" stroke="#1f1f1f" stroke-width="1.05"/>
<rect x="526.50" y="461.30" width="12.20" height="11.10" fill="#00B2EE" stroke="#1f1f1f" stroke-width="1.05"/>
<text x="532.60" y="469.77" font-size="8.1" text-anchor="middle" fill="#14222b" stroke="#14222b" stroke-width="0">10</text>
<rect x="538.70" y="461.30" width="11.70" height="11.10" fill="#00B2EE" stroke="#1f1f1f" stroke-width="1.05"/>
<text x="544.55" y="469.77" font-size="8.1" text-anchor="middle" fill="#14222b" stroke="#14222b" stroke-width="0">11</text>
<rect x="558.80" y="461.30" width="12.20" height="11.10" fill="#00B2EE" stroke="#1f1f1f" stroke-width="1.05"/>
<text x="564.90" y="469.77" font-size="8.1" text-anchor="middle" fill="#14222b" stroke="#14222b" stroke-width="0">12</text>
<line x1="536.80" y1="475.50" x2="541.60" y2="475.50" stroke="#1a1a1a" stroke-width="0.7"/>
<path d="M542.40,475.50 L540.40,474.30 L540.90,475.50 L540.40,476.70Z" fill="#1a1a1a"/>
<line x1="557.00" y1="475.50" x2="561.30" y2="475.50" stroke="#1a1a1a" stroke-width="0.7"/>
<path d="M556.20,475.50 L558.20,474.30 L557.70,475.50 L558.20,476.70Z" fill="#1a1a1a"/>
<text x="421.30" y="488.30" font-size="8.35" text-anchor="end" fill="#1a1a1a" stroke="#1a1a1a" stroke-width="0.22">Expected length (bp):</text>
<text x="421.30" y="503.80" font-size="8.3" text-anchor="end" fill="#1a1a1a" stroke="#1a1a1a" stroke-width="0.22">+Y-33075 ΔCq (vs. Actin):</text>
<text x="441.70" y="488.30" font-size="8.2" text-anchor="middle" fill="#1a1a1a" stroke="#1a1a1a" stroke-width="0.22">286</text>
<text x="441.70" y="503.80" font-size="8.2" text-anchor="middle" fill="#1a1a1a" stroke="#1a1a1a" stroke-width="0.22">7.4±0.68</text>
<text x="492.80" y="488.30" font-size="8.2" text-anchor="middle" fill="#1a1a1a" stroke="#1a1a1a" stroke-width="0.22">395</text>
<text x="492.80" y="503.80" font-size="8.2" text-anchor="middle" fill="#1a1a1a" stroke="#1a1a1a" stroke-width="0.22">7.5±0.69</text>
<text x="549.00" y="488.30" font-size="8.2" text-anchor="middle" fill="#1a1a1a" stroke="#1a1a1a" stroke-width="0.22">342</text>
<text x="549.00" y="503.80" font-size="8.2" text-anchor="middle" fill="#1a1a1a" stroke="#1a1a1a" stroke-width="0.22">19.4±1.04</text>
</g>
</svg>
</body></html>
